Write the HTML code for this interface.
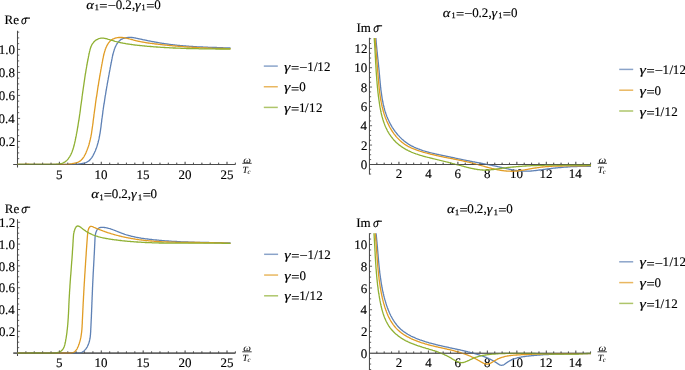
<!DOCTYPE html>
<html><head><meta charset="utf-8"><style>
html,body{margin:0;padding:0;background:#fff;overflow:hidden}
svg{display:block;will-change:transform;text-rendering:geometricPrecision}
svg{font-family:"Liberation Serif", serif;font-size:13px} text{fill:#000;stroke:#000;stroke-width:0.15px}
</style></head><body>
<svg width="685" height="370" viewBox="0 0 685 370">
<rect width="685" height="370" fill="#fff"/>
<path d="M13.31,164.40H235.38M17.50,167.50V30.77" stroke="#4a4a4a" stroke-width="1.05" fill="none"/>
<path d="M25.88,164.40V162.70M34.26,164.40V162.70M42.64,164.40V162.70M51.02,164.40V162.70M59.40,164.40V161.80M67.78,164.40V162.70M76.16,164.40V162.70M84.54,164.40V162.70M92.92,164.40V162.70M101.30,164.40V161.80M109.68,164.40V162.70M118.06,164.40V162.70M126.44,164.40V162.70M134.82,164.40V162.70M143.20,164.40V161.80M151.58,164.40V162.70M159.96,164.40V162.70M168.34,164.40V162.70M176.72,164.40V162.70M185.10,164.40V161.80M193.48,164.40V162.70M201.86,164.40V162.70M210.24,164.40V162.70M218.62,164.40V162.70M227.00,164.40V161.80M235.38,164.40V162.70M17.50,158.65H19.20M17.50,152.90H19.20M17.50,147.15H19.20M17.50,141.40H20.10M17.50,135.65H19.20M17.50,129.90H19.20M17.50,124.15H19.20M17.50,118.40H20.10M17.50,112.65H19.20M17.50,106.90H19.20M17.50,101.15H19.20M17.50,95.40H20.10M17.50,89.65H19.20M17.50,83.90H19.20M17.50,78.15H19.20M17.50,72.40H20.10M17.50,66.65H19.20M17.50,60.90H19.20M17.50,55.15H19.20M17.50,49.40H20.10M17.50,43.65H19.20M17.50,37.90H19.20M17.50,32.15H19.20" stroke="#4a4a4a" stroke-width="0.85" fill="none"/>
<text x="56.03" y="178.50">5</text>
<text x="94.48" y="178.50">1</text>
<text x="100.98" y="178.50">0</text>
<text x="136.38" y="178.50">1</text>
<text x="142.88" y="178.50">5</text>
<text x="178.56" y="178.50">2</text>
<text x="185.06" y="178.50">0</text>
<text x="220.47" y="178.50">2</text>
<text x="226.97" y="178.50">5</text>
<text x="-0.93" y="146.00">0</text>
<text x="5.57" y="146.00">.</text>
<text x="8.82" y="146.00">2</text>
<text x="-1.45" y="123.00">0</text>
<text x="5.05" y="123.00">.</text>
<text x="8.30" y="123.00">4</text>
<text x="-1.26" y="100.00">0</text>
<text x="5.24" y="100.00">.</text>
<text x="8.49" y="100.00">6</text>
<text x="-1.15" y="77.00">0</text>
<text x="5.35" y="77.00">.</text>
<text x="8.60" y="77.00">8</text>
<text x="-1.15" y="54.00">1</text>
<text x="5.35" y="54.00">.</text>
<text x="8.60" y="54.00">0</text>
<path d="M17.44,164.40L18.1,164.4L18.8,164.4L19.5,164.4L20.2,164.4L20.9,164.4L21.6,164.4L22.3,164.4L23.0,164.3L23.7,164.3L24.4,164.3L25.1,164.3L25.8,164.3L26.5,164.3L27.2,164.3L27.9,164.3L28.6,164.3L29.3,164.3L30.0,164.3L30.7,164.3L31.4,164.3L32.1,164.3L32.8,164.3L33.5,164.3L34.2,164.3L34.9,164.3L35.6,164.4L36.3,164.4L37.0,164.4L37.7,164.4L38.4,164.4L39.1,164.4L39.8,164.4L40.5,164.4L41.2,164.4L41.9,164.4L42.6,164.4L43.3,164.4L44.0,164.4L44.7,164.4L45.4,164.4L46.1,164.4L46.8,164.4L47.5,164.4L48.2,164.4L48.9,164.4L49.6,164.4L50.3,164.4L51.0,164.4L51.7,164.4L52.4,164.4L53.1,164.4L53.8,164.4L54.5,164.4L55.2,164.4L55.9,164.4L56.6,164.4L57.3,164.4L58.0,164.4L58.7,164.4L59.4,164.4L60.0,164.4L60.7,164.4L61.4,164.4L62.1,164.4L62.8,164.4L63.5,164.4L64.2,164.4L64.9,164.4L65.6,164.4L66.3,164.4L67.0,164.4L67.7,164.4L68.4,164.4L69.1,164.4L69.8,164.4L70.5,164.4L71.2,164.4L71.9,164.4L72.6,164.4L73.3,164.4L74.0,164.4L74.7,164.3L75.4,164.3L76.1,164.2L76.8,164.2L77.5,164.1L78.2,164.1L78.9,164.0L79.6,163.9L80.3,163.8L81.0,163.7L81.7,163.6L82.3,163.5L83.0,163.4L83.7,163.2L84.4,163.0L85.1,162.8L85.7,162.6L86.4,162.3L87.0,162.0L87.6,161.7L88.2,161.3L88.8,160.9L89.3,160.5L89.8,160.0L90.3,159.5L90.7,158.9L91.2,158.4L91.6,157.8L92.0,157.3L92.4,156.7L92.7,156.1L93.1,155.5L93.4,154.8L93.7,154.2L94.0,153.6L94.3,153.0L94.6,152.3L94.9,151.7L95.2,151.1L95.5,150.4L95.7,149.8L96.0,149.1L96.2,148.5L96.5,147.8L96.7,147.1L96.9,146.5L97.1,145.8L97.3,145.2L97.5,144.5L97.7,143.8L97.9,143.1L98.1,142.5L98.3,141.8L98.4,141.1L98.6,140.4L98.8,139.7L98.9,139.1L99.1,138.4L99.2,137.7L99.3,137.0L99.5,136.3L99.6,135.6L99.7,135.0L99.8,134.3L100.0,133.6L100.1,132.9L100.2,132.2L100.3,131.5L100.4,130.8L100.5,130.1L100.6,129.4L100.7,128.7L100.8,128.1L100.9,127.4L101.0,126.7L101.1,126.0L101.1,125.3L101.2,124.6L101.3,123.9L101.4,123.2L101.5,122.5L101.6,121.8L101.7,121.1L101.7,120.4L101.8,119.7L101.9,119.0L102.0,118.3L102.1,117.7L102.2,117.0L102.3,116.3L102.4,115.6L102.5,114.9L102.6,114.2L102.7,113.5L102.8,112.8L102.8,112.1L102.9,111.4L103.0,110.7L103.1,110.0L103.2,109.4L103.3,108.7L103.4,108.0L103.5,107.3L103.6,106.6L103.7,105.9L103.8,105.2L103.9,104.5L104.1,103.8L104.2,103.1L104.3,102.4L104.4,101.8L104.5,101.1L104.6,100.4L104.7,99.7L104.8,99.0L104.9,98.3L105.0,97.6L105.1,96.9L105.2,96.2L105.3,95.5L105.5,94.9L105.6,94.2L105.7,93.5L105.8,92.8L105.9,92.1L106.0,91.4L106.1,90.7L106.3,90.0L106.4,89.3L106.5,88.6L106.6,88.0L106.7,87.3L106.8,86.6L107.0,85.9L107.1,85.2L107.2,84.5L107.3,83.8L107.4,83.1L107.6,82.5L107.7,81.8L107.8,81.1L107.9,80.4L108.1,79.7L108.2,79.0L108.3,78.3L108.4,77.6L108.6,77.0L108.7,76.3L108.8,75.6L108.9,74.9L109.1,74.2L109.2,73.5L109.3,72.8L109.4,72.1L109.6,71.5L109.7,70.8L109.8,70.1L110.0,69.4L110.1,68.7L110.2,68.0L110.3,67.3L110.5,66.7L110.6,66.0L110.7,65.3L110.9,64.6L111.0,63.9L111.1,63.2L111.3,62.5L111.4,61.9L111.5,61.2L111.7,60.5L111.8,59.8L111.9,59.1L112.1,58.4L112.2,57.7L112.3,57.1L112.5,56.4L112.6,55.7L112.8,55.0L113.0,54.3L113.1,53.6L113.3,53.0L113.5,52.3L113.7,51.6L113.9,51.0L114.1,50.3L114.3,49.6L114.5,49.0L114.8,48.3L115.0,47.7L115.3,47.0L115.6,46.4L115.9,45.8L116.2,45.1L116.6,44.5L116.9,43.9L117.3,43.3L117.7,42.8L118.1,42.2L118.6,41.7L119.0,41.2L119.6,40.7L120.1,40.2L120.6,39.8L121.2,39.4L121.8,39.1L122.5,38.8L123.1,38.5L123.8,38.3L124.4,38.1L125.1,37.9L125.8,37.8L126.5,37.6L127.2,37.6L127.9,37.5L128.6,37.4L129.3,37.4L130.0,37.4L130.7,37.4L131.4,37.5L132.1,37.5L132.8,37.6L133.5,37.7L134.1,37.8L134.8,37.9L135.5,38.0L136.2,38.2L136.9,38.3L137.6,38.5L138.3,38.6L138.9,38.8L139.6,38.9L140.3,39.1L141.0,39.2L141.7,39.4L142.3,39.5L143.0,39.7L143.7,39.8L144.4,39.9L145.1,40.1L145.8,40.2L146.4,40.4L147.1,40.5L147.8,40.7L148.5,40.8L149.2,40.9L149.9,41.1L150.6,41.2L151.2,41.3L151.9,41.5L152.6,41.6L153.3,41.7L154.0,41.9L154.7,42.0L155.4,42.1L156.0,42.2L156.7,42.4L157.4,42.5L158.1,42.6L158.8,42.7L159.5,42.8L160.2,43.0L160.9,43.1L161.6,43.2L162.2,43.3L162.9,43.4L163.6,43.5L164.3,43.6L165.0,43.7L165.7,43.8L166.4,43.9L167.1,44.0L167.8,44.1L168.5,44.2L169.2,44.3L169.9,44.4L170.5,44.5L171.2,44.6L171.9,44.7L172.6,44.7L173.3,44.8L174.0,44.9L174.7,45.0L175.4,45.1L176.1,45.1L176.8,45.2L177.5,45.3L178.2,45.4L178.9,45.4L179.6,45.5L180.3,45.6L181.0,45.6L181.7,45.7L182.4,45.7L183.0,45.8L183.7,45.9L184.4,45.9L185.1,46.0L185.8,46.0L186.5,46.1L187.2,46.1L187.9,46.2L188.6,46.2L189.3,46.3L190.0,46.3L190.7,46.4L191.4,46.4L192.1,46.5L192.8,46.5L193.5,46.6L194.2,46.6L194.9,46.6L195.6,46.7L196.3,46.7L197.0,46.8L197.7,46.8L198.4,46.8L199.1,46.9L199.8,46.9L200.5,46.9L201.2,47.0L201.9,47.0L202.6,47.0L203.3,47.1L204.0,47.1L204.7,47.1L205.4,47.1L206.1,47.2L206.8,47.2L207.5,47.2L208.2,47.3L208.8,47.3L209.5,47.3L210.2,47.3L210.9,47.4L211.6,47.4L212.3,47.4L213.0,47.4L213.7,47.5L214.4,47.5L215.1,47.5L215.8,47.5L216.5,47.5L217.2,47.6L217.9,47.6L218.6,47.6L219.3,47.6L220.0,47.7L220.7,47.7L221.4,47.7L222.1,47.7L222.8,47.7L223.5,47.8L224.2,47.8L224.9,47.8L225.6,47.8L226.3,47.9L227.0,47.9L227.7,47.9L228.4,47.9L229.1,47.9L229.8,48.0L230.5,48.0" stroke="#5e81b5" stroke-width="1.3" fill="none" stroke-linejoin="round"/>
<path d="M17.50,164.40L18.2,164.4L18.9,164.4L19.6,164.4L20.3,164.4L21.0,164.4L21.7,164.3L22.4,164.3L23.1,164.3L23.8,164.3L24.5,164.3L25.2,164.2L25.9,164.2L26.6,164.2L27.3,164.2L28.0,164.2L28.7,164.2L29.4,164.3L30.1,164.3L30.8,164.3L31.5,164.3L32.2,164.3L32.9,164.3L33.6,164.3L34.3,164.4L35.0,164.4L35.7,164.4L36.4,164.4L37.1,164.4L37.8,164.4L38.5,164.4L39.2,164.4L39.9,164.4L40.6,164.4L41.3,164.4L42.0,164.4L42.7,164.4L43.4,164.4L44.1,164.4L44.8,164.4L45.5,164.4L46.2,164.4L46.9,164.4L47.6,164.4L48.3,164.4L49.0,164.4L49.7,164.4L50.4,164.4L51.1,164.4L51.8,164.4L52.5,164.4L53.2,164.4L53.9,164.4L54.6,164.4L55.3,164.4L56.0,164.4L56.7,164.4L57.4,164.4L58.1,164.4L58.8,164.4L59.5,164.4L60.2,164.4L60.8,164.4L61.5,164.4L62.2,164.4L62.9,164.4L63.6,164.4L64.3,164.4L65.0,164.4L65.7,164.4L66.4,164.4L67.1,164.4L67.8,164.3L68.5,164.2L69.2,164.1L69.9,164.0L70.6,163.9L71.3,163.8L72.0,163.7L72.7,163.5L73.3,163.4L74.0,163.3L74.7,163.1L75.4,163.0L76.1,162.8L76.7,162.6L77.4,162.4L78.1,162.1L78.7,161.8L79.3,161.5L79.9,161.1L80.5,160.7L81.0,160.3L81.5,159.8L82.0,159.3L82.5,158.8L82.9,158.2L83.3,157.6L83.7,157.1L84.1,156.5L84.4,155.8L84.7,155.2L85.1,154.6L85.4,154.0L85.7,153.4L86.0,152.7L86.2,152.1L86.5,151.4L86.8,150.8L87.0,150.1L87.3,149.5L87.5,148.8L87.8,148.2L88.0,147.5L88.2,146.9L88.5,146.2L88.7,145.5L88.9,144.9L89.1,144.2L89.3,143.5L89.4,142.8L89.6,142.2L89.8,141.5L90.0,140.8L90.1,140.1L90.3,139.4L90.4,138.8L90.6,138.1L90.7,137.4L90.9,136.7L91.0,136.0L91.1,135.3L91.3,134.6L91.4,134.0L91.5,133.3L91.6,132.6L91.7,131.9L91.8,131.2L91.9,130.5L92.0,129.8L92.1,129.1L92.2,128.4L92.3,127.7L92.4,127.0L92.5,126.3L92.6,125.7L92.7,125.0L92.8,124.3L92.9,123.6L93.0,122.9L93.1,122.2L93.1,121.5L93.2,120.8L93.3,120.1L93.4,119.4L93.5,118.7L93.6,118.0L93.7,117.3L93.8,116.6L93.9,115.9L93.9,115.2L94.0,114.5L94.1,113.9L94.2,113.2L94.3,112.5L94.4,111.8L94.5,111.1L94.6,110.4L94.7,109.7L94.8,109.0L94.9,108.3L95.0,107.6L95.1,106.9L95.2,106.2L95.3,105.5L95.4,104.8L95.4,104.2L95.5,103.5L95.6,102.8L95.7,102.1L95.8,101.4L95.9,100.7L96.0,100.0L96.1,99.3L96.2,98.6L96.3,97.9L96.4,97.2L96.6,96.5L96.7,95.8L96.8,95.2L96.9,94.5L97.0,93.8L97.1,93.1L97.2,92.4L97.3,91.7L97.4,91.0L97.5,90.3L97.6,89.6L97.7,88.9L97.8,88.2L97.9,87.5L98.0,86.9L98.1,86.2L98.3,85.5L98.4,84.8L98.5,84.1L98.6,83.4L98.7,82.7L98.8,82.0L98.9,81.3L99.0,80.6L99.2,80.0L99.3,79.3L99.4,78.6L99.5,77.9L99.6,77.2L99.7,76.5L99.9,75.8L100.0,75.1L100.1,74.4L100.2,73.7L100.3,73.1L100.5,72.4L100.6,71.7L100.7,71.0L100.8,70.3L100.9,69.6L101.1,68.9L101.2,68.2L101.3,67.5L101.4,66.9L101.6,66.2L101.7,65.5L101.8,64.8L101.9,64.1L102.1,63.4L102.2,62.7L102.3,62.0L102.5,61.4L102.6,60.7L102.7,60.0L102.8,59.3L103.0,58.6L103.1,57.9L103.3,57.2L103.4,56.6L103.5,55.9L103.7,55.2L103.9,54.5L104.0,53.8L104.2,53.1L104.4,52.5L104.6,51.8L104.8,51.1L105.0,50.5L105.2,49.8L105.4,49.1L105.7,48.5L105.9,47.8L106.2,47.2L106.5,46.6L106.8,45.9L107.1,45.3L107.5,44.7L107.8,44.1L108.2,43.5L108.6,42.9L109.0,42.4L109.5,41.8L109.9,41.3L110.4,40.8L111.0,40.4L111.5,39.9L112.1,39.5L112.7,39.2L113.3,38.9L114.0,38.6L114.6,38.3L115.3,38.1L116.0,37.9L116.6,37.8L117.3,37.7L118.0,37.6L118.7,37.5L119.4,37.5L120.1,37.5L120.8,37.5L121.5,37.5L122.2,37.5L122.9,37.6L123.6,37.7L124.3,37.8L125.0,37.9L125.7,38.0L126.4,38.2L127.0,38.3L127.7,38.5L128.4,38.6L129.1,38.8L129.8,39.0L130.4,39.2L131.1,39.4L131.8,39.6L132.5,39.7L133.1,39.9L133.8,40.1L134.5,40.3L135.2,40.5L135.8,40.6L136.5,40.8L137.2,41.0L137.9,41.1L138.6,41.3L139.3,41.4L139.9,41.5L140.6,41.7L141.3,41.8L142.0,41.9L142.7,42.1L143.4,42.2L144.1,42.3L144.8,42.4L145.4,42.5L146.1,42.6L146.8,42.8L147.5,42.9L148.2,43.0L148.9,43.1L149.6,43.2L150.3,43.3L151.0,43.3L151.7,43.4L152.4,43.5L153.1,43.6L153.8,43.7L154.4,43.8L155.1,43.9L155.8,44.0L156.5,44.0L157.2,44.1L157.9,44.2L158.6,44.3L159.3,44.4L160.0,44.4L160.7,44.5L161.4,44.6L162.1,44.7L162.8,44.8L163.5,44.8L164.2,44.9L164.9,45.0L165.6,45.1L166.3,45.1L167.0,45.2L167.7,45.3L168.4,45.3L169.0,45.4L169.7,45.5L170.4,45.6L171.1,45.6L171.8,45.7L172.5,45.8L173.2,45.8L173.9,45.9L174.6,45.9L175.3,46.0L176.0,46.1L176.7,46.1L177.4,46.2L178.1,46.3L178.8,46.3L179.5,46.4L180.2,46.4L180.9,46.5L181.6,46.5L182.3,46.6L183.0,46.6L183.7,46.7L184.4,46.8L185.1,46.8L185.8,46.9L186.5,46.9L187.2,47.0L187.9,47.0L188.6,47.1L189.3,47.1L190.0,47.1L190.7,47.2L191.4,47.2L192.1,47.3L192.8,47.3L193.5,47.4L194.1,47.4L194.8,47.5L195.5,47.5L196.2,47.5L196.9,47.6L197.6,47.6L198.3,47.7L199.0,47.7L199.7,47.7L200.4,47.8L201.1,47.8L201.8,47.8L202.5,47.9L203.2,47.9L203.9,47.9L204.6,48.0L205.3,48.0L206.0,48.0L206.7,48.0L207.4,48.1L208.1,48.1L208.8,48.1L209.5,48.2L210.2,48.2L210.9,48.2L211.6,48.2L212.3,48.3L213.0,48.3L213.7,48.3L214.4,48.3L215.1,48.3L215.8,48.4L216.5,48.4L217.2,48.4L217.9,48.4L218.6,48.4L219.3,48.4L220.0,48.5L220.7,48.5L221.4,48.5L222.1,48.5L222.8,48.5L223.5,48.5L224.2,48.5L224.9,48.5L225.6,48.6L226.3,48.6L227.0,48.6L227.7,48.6L228.4,48.6L229.1,48.6L229.8,48.6L230.5,48.6" stroke="#e19c24" stroke-width="1.3" fill="none" stroke-linejoin="round"/>
<path d="M17.50,164.38L18.2,164.4L18.9,164.4L19.6,164.4L20.3,164.4L21.0,164.4L21.7,164.4L22.4,164.4L23.1,164.4L23.8,164.4L24.5,164.4L25.2,164.4L25.9,164.4L26.6,164.4L27.3,164.4L28.0,164.4L28.7,164.4L29.4,164.4L30.1,164.4L30.8,164.4L31.5,164.4L32.2,164.4L32.9,164.4L33.6,164.4L34.3,164.4L35.0,164.4L35.7,164.4L36.4,164.4L37.1,164.4L37.8,164.4L38.5,164.4L39.2,164.4L39.8,164.4L40.5,164.4L41.2,164.4L41.9,164.4L42.6,164.4L43.3,164.4L44.0,164.4L44.7,164.4L45.4,164.4L46.1,164.4L46.8,164.4L47.5,164.4L48.2,164.4L48.9,164.4L49.6,164.4L50.3,164.4L51.0,164.4L51.7,164.4L52.4,164.4L53.1,164.4L53.8,164.4L54.5,164.4L55.2,164.3L55.9,164.3L56.6,164.2L57.3,164.2L58.0,164.1L58.7,164.0L59.4,163.9L60.1,163.8L60.8,163.6L61.4,163.5L62.1,163.3L62.8,163.0L63.4,162.8L64.0,162.4L64.6,162.1L65.2,161.7L65.8,161.3L66.3,160.8L66.8,160.4L67.3,159.9L67.8,159.3L68.2,158.8L68.6,158.2L69.0,157.7L69.4,157.1L69.8,156.5L70.1,155.9L70.5,155.3L70.8,154.7L71.1,154.0L71.4,153.4L71.7,152.8L71.9,152.1L72.2,151.5L72.4,150.8L72.7,150.1L72.9,149.5L73.1,148.8L73.3,148.1L73.5,147.5L73.7,146.8L73.9,146.1L74.1,145.5L74.2,144.8L74.4,144.1L74.6,143.4L74.7,142.7L74.9,142.1L75.0,141.4L75.2,140.7L75.3,140.0L75.5,139.3L75.6,138.6L75.7,138.0L75.9,137.3L76.0,136.6L76.2,135.9L76.3,135.2L76.4,134.5L76.5,133.8L76.7,133.2L76.8,132.5L76.9,131.8L77.1,131.1L77.2,130.4L77.3,129.7L77.4,129.0L77.5,128.3L77.6,127.7L77.8,127.0L77.9,126.3L78.0,125.6L78.1,124.9L78.2,124.2L78.3,123.5L78.4,122.8L78.5,122.1L78.6,121.5L78.8,120.8L78.9,120.1L79.0,119.4L79.1,118.7L79.2,118.0L79.3,117.3L79.4,116.6L79.5,115.9L79.6,115.2L79.7,114.5L79.8,113.8L79.9,113.2L80.0,112.5L80.1,111.8L80.2,111.1L80.3,110.4L80.4,109.7L80.5,109.0L80.5,108.3L80.6,107.6L80.7,106.9L80.8,106.2L80.9,105.5L81.0,104.9L81.1,104.2L81.2,103.5L81.3,102.8L81.4,102.1L81.5,101.4L81.6,100.7L81.7,100.0L81.8,99.3L81.9,98.6L82.0,97.9L82.0,97.2L82.1,96.5L82.2,95.9L82.3,95.2L82.4,94.5L82.5,93.8L82.6,93.1L82.7,92.4L82.8,91.7L82.9,91.0L83.0,90.3L83.1,89.6L83.2,88.9L83.3,88.2L83.4,87.5L83.5,86.9L83.6,86.2L83.7,85.5L83.8,84.8L83.9,84.1L84.0,83.4L84.1,82.7L84.2,82.0L84.3,81.3L84.4,80.6L84.5,79.9L84.6,79.3L84.7,78.6L84.8,77.9L84.9,77.2L85.0,76.5L85.1,75.8L85.2,75.1L85.3,74.4L85.4,73.7L85.6,73.0L85.7,72.4L85.8,71.7L85.9,71.0L86.0,70.3L86.1,69.6L86.2,68.9L86.4,68.2L86.5,67.5L86.6,66.8L86.7,66.2L86.8,65.5L87.0,64.8L87.1,64.1L87.2,63.4L87.3,62.7L87.5,62.0L87.6,61.3L87.7,60.7L87.9,60.0L88.0,59.3L88.1,58.6L88.3,57.9L88.4,57.2L88.5,56.5L88.7,55.9L88.8,55.2L88.9,54.5L89.1,53.8L89.2,53.1L89.4,52.4L89.5,51.8L89.7,51.1L89.9,50.4L90.0,49.7L90.2,49.1L90.4,48.4L90.6,47.7L90.9,47.1L91.1,46.4L91.4,45.8L91.7,45.1L92.0,44.5L92.4,43.9L92.8,43.3L93.2,42.8L93.6,42.2L94.1,41.7L94.6,41.2L95.1,40.8L95.7,40.3L96.3,39.9L96.9,39.6L97.5,39.3L98.1,39.0L98.8,38.7L99.4,38.5L100.1,38.3L100.8,38.2L101.5,38.1L102.2,38.1L102.9,38.1L103.6,38.2L104.3,38.3L105.0,38.4L105.6,38.6L106.3,38.7L107.0,38.9L107.7,39.1L108.3,39.3L109.0,39.5L109.7,39.7L110.3,39.9L111.0,40.1L111.7,40.3L112.3,40.5L113.0,40.7L113.7,40.9L114.4,41.1L115.0,41.3L115.7,41.5L116.4,41.7L117.1,41.8L117.7,42.0L118.4,42.2L119.1,42.3L119.8,42.5L120.5,42.6L121.1,42.8L121.8,42.9L122.5,43.0L123.2,43.2L123.9,43.3L124.6,43.4L125.3,43.5L125.9,43.7L126.6,43.8L127.3,43.9L128.0,44.0L128.7,44.1L129.4,44.2L130.1,44.3L130.8,44.4L131.5,44.5L132.2,44.6L132.9,44.7L133.5,44.8L134.2,44.9L134.9,45.0L135.6,45.1L136.3,45.1L137.0,45.2L137.7,45.3L138.4,45.4L139.1,45.4L139.8,45.5L140.5,45.6L141.2,45.7L141.9,45.7L142.6,45.8L143.3,45.9L144.0,45.9L144.7,46.0L145.4,46.1L146.0,46.1L146.7,46.2L147.4,46.3L148.1,46.3L148.8,46.4L149.5,46.4L150.2,46.5L150.9,46.5L151.6,46.6L152.3,46.7L153.0,46.7L153.7,46.8L154.4,46.8L155.1,46.9L155.8,46.9L156.5,47.0L157.2,47.0L157.9,47.1L158.6,47.1L159.3,47.2L160.0,47.2L160.7,47.3L161.4,47.3L162.1,47.3L162.8,47.4L163.5,47.4L164.2,47.5L164.9,47.5L165.6,47.6L166.3,47.6L166.9,47.6L167.6,47.7L168.3,47.7L169.0,47.7L169.7,47.8L170.4,47.8L171.1,47.9L171.8,47.9L172.5,47.9L173.2,48.0L173.9,48.0L174.6,48.0L175.3,48.0L176.0,48.1L176.7,48.1L177.4,48.1L178.1,48.2L178.8,48.2L179.5,48.2L180.2,48.2L180.9,48.3L181.6,48.3L182.3,48.3L183.0,48.3L183.7,48.4L184.4,48.4L185.1,48.4L185.8,48.4L186.5,48.5L187.2,48.5L187.9,48.5L188.6,48.5L189.3,48.5L190.0,48.6L190.7,48.6L191.4,48.6L192.1,48.6L192.8,48.6L193.5,48.6L194.2,48.7L194.9,48.7L195.6,48.7L196.3,48.7L197.0,48.7L197.7,48.7L198.4,48.7L199.1,48.8L199.8,48.8L200.5,48.8L201.2,48.8L201.9,48.8L202.6,48.8L203.3,48.8L204.0,48.8L204.7,48.8L205.3,48.9L206.0,48.9L206.7,48.9L207.4,48.9L208.1,48.9L208.8,48.9L209.5,48.9L210.2,48.9L210.9,48.9L211.6,48.9L212.3,48.9L213.0,48.9L213.7,48.9L214.4,48.9L215.1,48.9L215.8,49.0L216.5,49.0L217.2,49.0L217.9,49.0L218.6,49.0L219.3,49.0L220.0,49.0L220.7,49.0L221.4,49.0L222.1,49.0L222.8,49.0L223.5,49.0L224.2,49.0L224.9,49.0L225.6,49.0L226.3,49.0L227.0,49.0L227.7,49.0L228.4,49.0L229.1,49.0L229.8,49.0L230.5,49.0" stroke="#8fb032" stroke-width="1.3" fill="none" stroke-linejoin="round"/>
<g opacity="0.55"><path d="M13.31,164.40H235.38" stroke="#4a4a4a" stroke-width="1.05" fill="none"/><path d="M25.88,164.40V162.70M34.26,164.40V162.70M42.64,164.40V162.70M51.02,164.40V162.70M59.40,164.40V161.80M67.78,164.40V162.70M76.16,164.40V162.70M84.54,164.40V162.70M92.92,164.40V162.70M101.30,164.40V161.80M109.68,164.40V162.70M118.06,164.40V162.70M126.44,164.40V162.70M134.82,164.40V162.70M143.20,164.40V161.80M151.58,164.40V162.70M159.96,164.40V162.70M168.34,164.40V162.70M176.72,164.40V162.70M185.10,164.40V161.80M193.48,164.40V162.70M201.86,164.40V162.70M210.24,164.40V162.70M218.62,164.40V162.70M227.00,164.40V161.80M235.38,164.40V162.70" stroke="#4a4a4a" stroke-width="0.85" fill="none"/></g>
<line x1="263.80" y1="66.10" x2="277.80" y2="66.10" stroke="#5e81b5" stroke-width="1.5" opacity="0.72"/>
<text transform="translate(284.07,70.70) scale(1.25,1)" font-style="italic">γ</text>
<text transform="translate(291.04,71.90) scale(1.12,1)">=</text>
<text transform="translate(299.29,71.90) scale(1.12,1)">−</text>
<text x="307.17" y="70.70">1</text>
<text x="313.99" y="70.70">/</text>
<text x="317.37" y="70.70">1</text>
<text x="324.02" y="70.70">2</text>
<line x1="263.80" y1="86.75" x2="277.80" y2="86.75" stroke="#e19c24" stroke-width="1.5" opacity="0.72"/>
<text transform="translate(284.07,91.35) scale(1.25,1)" font-style="italic">γ</text>
<text transform="translate(291.04,92.55) scale(1.12,1)">=</text>
<text x="299.15" y="91.35">0</text>
<line x1="263.80" y1="107.40" x2="277.80" y2="107.40" stroke="#8fb032" stroke-width="1.5" opacity="0.72"/>
<text transform="translate(284.07,112.00) scale(1.25,1)" font-style="italic">γ</text>
<text transform="translate(290.99,113.20) scale(1.12,1)">=</text>
<text x="298.92" y="112.00">1</text>
<text x="305.09" y="112.00">/</text>
<text x="309.12" y="112.00">1</text>
<text x="315.97" y="112.00">2</text>
<text transform="translate(86.24,8.50) scale(1.12,1)" font-style="italic">α</text>
<text x="94.84" y="10.30" font-size="8.2" style="stroke-width:0.25px">1</text>
<text transform="translate(99.34,9.70) scale(1.12,1)">=</text>
<text transform="translate(107.69,9.70) scale(1.12,1)">−</text>
<text x="115.75" y="8.50">0</text>
<text x="122.03" y="8.50">.</text>
<text x="125.27" y="8.50">2</text>
<text x="131.89" y="8.50">,</text>
<text transform="translate(134.90,8.50) scale(1.1,1)" font-style="italic">γ</text>
<text x="141.59" y="10.30" font-size="8.2" style="stroke-width:0.25px">1</text>
<text transform="translate(146.24,9.70) scale(1.12,1)">=</text>
<text x="154.35" y="8.50">0</text>
<text x="4.59" y="24.20">R</text>
<text x="13.29" y="24.20">e</text>
<text transform="translate(21.06,24.20) scale(0.9,1)" font-style="italic">σ</text>
<path d="M24.30,18.10H30.00" stroke="#000" stroke-width="1.1" fill="none"/>
<text transform="translate(243.30,162.90) scale(1.15,1)" font-style="italic" font-size="9.5" style="stroke-width:0.02px">ω</text>
<line x1="242.30" y1="163.30" x2="251.70" y2="163.30" stroke="#000" stroke-width="0.75"/>
<text x="242.47" y="172.90" font-style="italic" font-size="9.5" style="stroke-width:0.08px">T</text>
<text x="247.52" y="173.90" font-style="italic" font-size="6.8" style="stroke-width:0.02px">c</text>
<path d="M369.45,164.40H590.55M369.45,174.45V37.86" stroke="#4a4a4a" stroke-width="1.05" fill="none"/>
<path d="M376.82,164.40V162.70M384.19,164.40V162.70M391.56,164.40V162.70M398.93,164.40V161.80M406.30,164.40V162.70M413.67,164.40V162.70M421.04,164.40V162.70M428.41,164.40V161.80M435.78,164.40V162.70M443.15,164.40V162.70M450.52,164.40V162.70M457.89,164.40V161.80M465.26,164.40V162.70M472.63,164.40V162.70M480.00,164.40V162.70M487.37,164.40V161.80M494.74,164.40V162.70M502.11,164.40V162.70M509.48,164.40V162.70M516.85,164.40V161.80M524.22,164.40V162.70M531.59,164.40V162.70M538.96,164.40V162.70M546.33,164.40V161.80M553.70,164.40V162.70M561.07,164.40V162.70M568.44,164.40V162.70M575.81,164.40V161.80M583.18,164.40V162.70M590.55,164.40V162.70M369.45,174.07H371.15M369.45,169.23H371.15M369.45,159.57H371.15M369.45,154.73H371.15M369.45,149.90H371.15M369.45,145.07H372.05M369.45,140.23H371.15M369.45,135.40H371.15M369.45,130.57H371.15M369.45,125.73H372.05M369.45,120.90H371.15M369.45,116.06H371.15M369.45,111.23H371.15M369.45,106.40H372.05M369.45,101.56H371.15M369.45,96.73H371.15M369.45,91.90H371.15M369.45,87.06H372.05M369.45,82.23H371.15M369.45,77.40H371.15M369.45,72.56H371.15M369.45,67.73H372.05M369.45,62.90H371.15M369.45,58.06H371.15M369.45,53.23H371.15M369.45,48.40H372.05M369.45,43.56H371.15M369.45,38.73H371.15" stroke="#4a4a4a" stroke-width="0.85" fill="none"/>
<text x="395.75" y="178.40">2</text>
<text x="425.13" y="178.40">4</text>
<text x="454.55" y="178.40">6</text>
<text x="484.12" y="178.40">8</text>
<text x="510.03" y="178.40">1</text>
<text x="516.53" y="178.40">0</text>
<text x="539.62" y="178.40">1</text>
<text x="546.12" y="178.40">2</text>
<text x="568.84" y="178.40">1</text>
<text x="575.34" y="178.40">4</text>
<text x="360.85" y="169.00">0</text>
<text x="361.07" y="149.67">2</text>
<text x="360.55" y="130.33">4</text>
<text x="360.74" y="111.00">6</text>
<text x="360.85" y="91.66">8</text>
<text x="354.35" y="72.33">1</text>
<text x="360.85" y="72.33">0</text>
<text x="354.57" y="53.00">1</text>
<text x="361.07" y="53.00">2</text>
<clipPath id="ctr"><rect x="369" y="38.0" width="225" height="140"/></clipPath>
<path d="M375.45,29.95L375.5,30.7L375.5,31.4L375.5,32.0L375.6,32.7L375.6,33.4L375.6,34.1L375.7,34.8L375.7,35.5L375.8,36.2L375.8,36.9L375.9,37.6L375.9,38.3L376.0,39.0L376.0,39.7L376.1,40.4L376.1,41.1L376.2,41.8L376.2,42.5L376.3,43.2L376.4,43.9L376.4,44.6L376.5,45.3L376.6,46.0L376.6,46.7L376.7,47.4L376.8,48.1L376.8,48.8L376.9,49.5L377.0,50.2L377.0,50.9L377.1,51.5L377.2,52.2L377.3,52.9L377.3,53.6L377.4,54.3L377.5,55.0L377.5,55.7L377.6,56.4L377.7,57.1L377.8,57.8L377.8,58.5L377.9,59.2L378.0,59.9L378.1,60.6L378.1,61.3L378.2,62.0L378.3,62.7L378.4,63.4L378.4,64.1L378.5,64.7L378.6,65.4L378.6,66.1L378.7,66.8L378.8,67.5L378.9,68.2L378.9,68.9L379.0,69.6L379.1,70.3L379.1,71.0L379.2,71.7L379.2,72.4L379.3,73.1L379.4,73.8L379.4,74.5L379.5,75.2L379.6,75.9L379.6,76.6L379.7,77.3L379.7,78.0L379.8,78.7L379.9,79.4L379.9,80.1L380.0,80.7L380.1,81.4L380.1,82.1L380.2,82.8L380.3,83.5L380.3,84.2L380.4,84.9L380.5,85.6L380.5,86.3L380.6,87.0L380.7,87.7L380.8,88.4L380.8,89.1L380.9,89.8L381.0,90.5L381.1,91.2L381.2,91.9L381.3,92.6L381.4,93.2L381.5,93.9L381.6,94.6L381.7,95.3L381.8,96.0L381.9,96.7L382.0,97.4L382.1,98.1L382.2,98.8L382.3,99.5L382.5,100.1L382.6,100.8L382.7,101.5L382.9,102.2L383.0,102.9L383.1,103.6L383.3,104.3L383.4,104.9L383.6,105.6L383.8,106.3L383.9,107.0L384.1,107.7L384.3,108.3L384.5,109.0L384.6,109.7L384.8,110.4L385.0,111.0L385.2,111.7L385.5,112.4L385.7,113.0L385.9,113.7L386.1,114.3L386.4,115.0L386.6,115.7L386.8,116.3L387.1,117.0L387.4,117.6L387.6,118.3L387.9,118.9L388.2,119.5L388.5,120.2L388.8,120.8L389.1,121.4L389.4,122.1L389.7,122.7L390.0,123.3L390.3,123.9L390.7,124.5L391.0,125.2L391.4,125.8L391.7,126.4L392.1,127.0L392.4,127.6L392.8,128.1L393.2,128.7L393.6,129.3L394.0,129.9L394.4,130.5L394.8,131.0L395.2,131.6L395.6,132.1L396.1,132.7L396.5,133.2L396.9,133.8L397.4,134.3L397.8,134.8L398.3,135.4L398.8,135.9L399.3,136.4L399.7,136.9L400.2,137.4L400.7,137.9L401.2,138.4L401.7,138.9L402.2,139.3L402.8,139.8L403.3,140.2L403.8,140.7L404.4,141.1L404.9,141.6L405.5,142.0L406.0,142.4L406.6,142.8L407.2,143.2L407.8,143.6L408.3,144.0L408.9,144.4L409.5,144.7L410.1,145.1L410.7,145.4L411.3,145.8L412.0,146.1L412.6,146.4L413.2,146.7L413.8,147.0L414.5,147.3L415.1,147.6L415.7,147.9L416.4,148.2L417.0,148.4L417.7,148.7L418.3,149.0L419.0,149.2L419.6,149.4L420.3,149.7L421.0,149.9L421.6,150.1L422.3,150.4L422.9,150.6L423.6,150.8L424.3,151.0L424.9,151.2L425.6,151.4L426.3,151.6L427.0,151.8L427.6,152.0L428.3,152.1L429.0,152.3L429.7,152.5L430.3,152.7L431.0,152.8L431.7,153.0L432.4,153.2L433.1,153.3L433.7,153.5L434.4,153.6L435.1,153.8L435.8,154.0L436.5,154.1L437.1,154.3L437.8,154.4L438.5,154.5L439.2,154.7L439.9,154.8L440.6,155.0L441.2,155.1L441.9,155.3L442.6,155.4L443.3,155.6L444.0,155.7L444.7,155.8L445.4,156.0L446.0,156.1L446.7,156.3L447.4,156.4L448.1,156.6L448.8,156.7L449.5,156.8L450.1,157.0L450.8,157.1L451.5,157.3L452.2,157.4L452.9,157.6L453.5,157.7L454.2,157.9L454.9,158.0L455.6,158.2L456.3,158.3L457.0,158.5L457.6,158.6L458.3,158.8L459.0,158.9L459.7,159.1L460.4,159.2L461.1,159.3L461.7,159.5L462.4,159.6L463.1,159.8L463.8,159.9L464.5,160.1L465.2,160.2L465.9,160.3L466.5,160.5L467.2,160.6L467.9,160.7L468.6,160.9L469.3,161.0L470.0,161.1L470.7,161.3L471.3,161.4L472.0,161.5L472.7,161.7L473.4,161.8L474.1,161.9L474.8,162.0L475.5,162.2L476.1,162.3L476.8,162.4L477.5,162.6L478.2,162.7L478.9,162.8L479.6,163.0L480.3,163.1L481.0,163.2L481.6,163.4L482.3,163.5L483.0,163.6L483.7,163.8L484.4,163.9L485.1,164.0L485.8,164.2L486.4,164.3L487.1,164.4L487.8,164.6L488.5,164.7L489.2,164.8L489.9,165.0L490.6,165.1L491.2,165.2L491.9,165.4L492.6,165.5L493.3,165.7L494.0,165.8L494.7,165.9L495.3,166.1L496.0,166.2L496.7,166.4L497.4,166.5L498.1,166.7L498.8,166.8L499.4,167.0L500.1,167.1L500.8,167.3L501.5,167.4L502.2,167.6L502.8,167.7L503.5,167.9L504.2,168.1L504.9,168.2L505.6,168.4L506.3,168.5L506.9,168.7L507.6,168.8L508.3,169.0L509.0,169.1L509.7,169.3L510.3,169.4L511.0,169.6L511.7,169.7L512.4,169.8L513.1,170.0L513.8,170.1L514.5,170.2L515.2,170.3L515.8,170.4L516.5,170.5L517.2,170.6L517.9,170.7L518.6,170.8L519.3,170.9L520.0,171.0L520.7,171.0L521.4,171.1L522.1,171.1L522.8,171.2L523.5,171.2L524.2,171.2L524.9,171.2L525.6,171.2L526.3,171.2L527.0,171.2L527.7,171.2L528.4,171.2L529.1,171.1L529.8,171.1L530.5,171.1L531.2,171.0L531.9,170.9L532.6,170.9L533.2,170.8L533.9,170.7L534.6,170.7L535.3,170.6L536.0,170.5L536.7,170.4L537.4,170.3L538.1,170.2L538.8,170.1L539.5,170.0L540.2,169.9L540.9,169.9L541.6,169.8L542.3,169.7L543.0,169.6L543.6,169.5L544.3,169.4L545.0,169.3L545.7,169.2L546.4,169.1L547.1,169.0L547.8,168.9L548.5,168.8L549.2,168.7L549.9,168.6L550.6,168.6L551.3,168.5L552.0,168.4L552.7,168.3L553.3,168.2L554.0,168.1L554.7,168.1L555.4,168.0L556.1,167.9L556.8,167.9L557.5,167.8L558.2,167.7L558.9,167.6L559.6,167.6L560.3,167.5L561.0,167.5L561.7,167.4L562.4,167.3L563.1,167.3L563.8,167.2L564.5,167.2L565.2,167.1L565.9,167.1L566.6,167.0L567.3,167.0L568.0,166.9L568.7,166.9L569.4,166.8L570.0,166.8L570.7,166.7L571.4,166.7L572.1,166.7L572.8,166.6L573.5,166.6L574.2,166.6L574.9,166.5L575.6,166.5L576.3,166.5L577.0,166.5L577.7,166.4L578.4,166.4L579.1,166.4L579.8,166.4L580.5,166.4L581.2,166.3L581.9,166.3L582.6,166.3L583.3,166.3L584.0,166.3L584.7,166.3L585.4,166.3L586.1,166.3L586.8,166.3L587.5,166.3L588.2,166.3L588.9,166.3L589.6,166.3L590.3,166.3L591.0,166.3" stroke="#5e81b5" stroke-width="1.3" fill="none" stroke-linejoin="round" clip-path="url(#ctr)"/>
<path d="M374.66,29.97L374.7,30.7L374.7,31.4L374.8,32.1L374.8,32.8L374.8,33.5L374.9,34.2L374.9,34.9L374.9,35.6L375.0,36.3L375.0,37.0L375.1,37.7L375.1,38.3L375.1,39.0L375.2,39.7L375.2,40.4L375.3,41.1L375.3,41.8L375.4,42.5L375.4,43.2L375.5,43.9L375.5,44.6L375.6,45.3L375.6,46.0L375.7,46.7L375.7,47.4L375.8,48.1L375.9,48.8L375.9,49.5L376.0,50.2L376.0,50.9L376.1,51.6L376.1,52.3L376.2,53.0L376.3,53.7L376.3,54.4L376.4,55.1L376.4,55.8L376.5,56.5L376.6,57.2L376.6,57.9L376.7,58.6L376.7,59.3L376.8,60.0L376.9,60.7L376.9,61.3L377.0,62.0L377.0,62.7L377.1,63.4L377.2,64.1L377.2,64.8L377.3,65.5L377.3,66.2L377.4,66.9L377.4,67.6L377.5,68.3L377.6,69.0L377.6,69.7L377.7,70.4L377.7,71.1L377.8,71.8L377.8,72.5L377.9,73.2L377.9,73.9L378.0,74.6L378.1,75.3L378.1,76.0L378.2,76.7L378.2,77.4L378.3,78.1L378.3,78.8L378.4,79.5L378.4,80.2L378.5,80.9L378.6,81.6L378.6,82.3L378.7,82.9L378.7,83.6L378.8,84.3L378.9,85.0L378.9,85.7L379.0,86.4L379.1,87.1L379.1,87.8L379.2,88.5L379.3,89.2L379.4,89.9L379.5,90.6L379.5,91.3L379.6,92.0L379.7,92.7L379.8,93.4L379.9,94.1L380.0,94.8L380.1,95.5L380.2,96.1L380.3,96.8L380.4,97.5L380.5,98.2L380.6,98.9L380.7,99.6L380.8,100.3L381.0,101.0L381.1,101.7L381.2,102.4L381.4,103.0L381.5,103.7L381.6,104.4L381.8,105.1L381.9,105.8L382.1,106.5L382.3,107.1L382.4,107.8L382.6,108.5L382.8,109.2L382.9,109.8L383.1,110.5L383.3,111.2L383.5,111.9L383.7,112.5L383.9,113.2L384.1,113.9L384.3,114.5L384.6,115.2L384.8,115.9L385.0,116.5L385.2,117.2L385.5,117.8L385.7,118.5L386.0,119.1L386.3,119.8L386.5,120.4L386.8,121.1L387.1,121.7L387.4,122.4L387.7,123.0L387.9,123.6L388.3,124.3L388.6,124.9L388.9,125.5L389.2,126.1L389.5,126.7L389.9,127.4L390.2,128.0L390.6,128.6L390.9,129.2L391.3,129.8L391.7,130.4L392.0,131.0L392.4,131.5L392.8,132.1L393.2,132.7L393.6,133.3L394.0,133.8L394.4,134.4L394.9,134.9L395.3,135.5L395.7,136.0L396.2,136.6L396.7,137.1L397.1,137.6L397.6,138.1L398.1,138.6L398.6,139.1L399.1,139.6L399.6,140.1L400.1,140.6L400.6,141.1L401.1,141.5L401.7,142.0L402.2,142.4L402.7,142.8L403.3,143.3L403.9,143.7L404.4,144.1L405.0,144.5L405.6,144.9L406.2,145.2L406.8,145.6L407.4,145.9L408.0,146.3L408.6,146.6L409.2,146.9L409.9,147.2L410.5,147.5L411.1,147.8L411.8,148.1L412.4,148.4L413.1,148.7L413.7,148.9L414.4,149.2L415.0,149.4L415.7,149.7L416.3,149.9L417.0,150.2L417.6,150.4L418.3,150.6L419.0,150.8L419.6,151.0L420.3,151.3L421.0,151.5L421.6,151.7L422.3,151.9L423.0,152.1L423.6,152.3L424.3,152.5L425.0,152.7L425.7,152.8L426.3,153.0L427.0,153.2L427.7,153.4L428.4,153.6L429.0,153.7L429.7,153.9L430.4,154.1L431.1,154.3L431.8,154.4L432.4,154.6L433.1,154.7L433.8,154.9L434.5,155.1L435.2,155.2L435.8,155.4L436.5,155.5L437.2,155.7L437.9,155.8L438.6,156.0L439.3,156.1L439.9,156.3L440.6,156.4L441.3,156.6L442.0,156.7L442.7,156.8L443.4,157.0L444.0,157.1L444.7,157.3L445.4,157.4L446.1,157.5L446.8,157.7L447.5,157.8L448.2,157.9L448.8,158.1L449.5,158.2L450.2,158.3L450.9,158.5L451.6,158.6L452.3,158.7L453.0,158.9L453.6,159.0L454.3,159.1L455.0,159.3L455.7,159.4L456.4,159.6L457.1,159.7L457.8,159.8L458.4,160.0L459.1,160.1L459.8,160.3L460.5,160.4L461.2,160.5L461.9,160.7L462.6,160.8L463.2,161.0L463.9,161.1L464.6,161.3L465.3,161.4L466.0,161.6L466.7,161.7L467.3,161.9L468.0,162.1L468.7,162.2L469.4,162.4L470.1,162.5L470.7,162.7L471.4,162.9L472.1,163.1L472.8,163.2L473.4,163.4L474.1,163.6L474.8,163.8L475.5,163.9L476.1,164.1L476.8,164.3L477.5,164.5L478.2,164.7L478.8,164.9L479.5,165.1L480.2,165.3L480.9,165.4L481.5,165.6L482.2,165.8L482.9,166.0L483.5,166.2L484.2,166.4L484.9,166.6L485.6,166.8L486.2,167.0L486.9,167.1L487.6,167.3L488.3,167.5L488.9,167.7L489.6,167.9L490.3,168.0L491.0,168.2L491.6,168.4L492.3,168.6L493.0,168.7L493.7,168.9L494.4,169.0L495.0,169.2L495.7,169.3L496.4,169.5L497.1,169.6L497.8,169.8L498.5,169.9L499.2,170.0L499.8,170.2L500.5,170.3L501.2,170.4L501.9,170.5L502.6,170.6L503.3,170.7L504.0,170.8L504.7,170.9L505.4,170.9L506.1,171.0L506.8,171.1L507.5,171.1L508.2,171.2L508.9,171.2L509.6,171.2L510.3,171.2L511.0,171.3L511.7,171.3L512.4,171.3L513.1,171.2L513.8,171.2L514.5,171.2L515.2,171.1L515.9,171.1L516.6,171.0L517.2,171.0L517.9,170.9L518.6,170.8L519.3,170.7L520.0,170.6L520.7,170.5L521.4,170.4L522.1,170.3L522.8,170.2L523.5,170.1L524.2,170.0L524.9,169.8L525.5,169.7L526.2,169.6L526.9,169.5L527.6,169.3L528.3,169.2L529.0,169.1L529.7,168.9L530.4,168.8L531.0,168.7L531.7,168.6L532.4,168.4L533.1,168.3L533.8,168.2L534.5,168.1L535.2,168.0L535.9,167.9L536.6,167.8L537.3,167.7L537.9,167.6L538.6,167.5L539.3,167.4L540.0,167.3L540.7,167.2L541.4,167.1L542.1,167.0L542.8,167.0L543.5,166.9L544.2,166.8L544.9,166.8L545.6,166.7L546.3,166.6L547.0,166.6L547.7,166.5L548.4,166.5L549.1,166.4L549.8,166.4L550.5,166.3L551.2,166.3L551.9,166.3L552.6,166.2L553.3,166.2L554.0,166.2L554.7,166.1L555.4,166.1L556.1,166.1L556.8,166.1L557.4,166.0L558.1,166.0L558.8,166.0L559.5,166.0L560.2,166.0L560.9,166.0L561.6,166.0L562.3,166.0L563.0,165.9L563.7,165.9L564.4,165.9L565.1,165.9L565.8,165.9L566.5,165.9L567.2,165.9L567.9,165.9L568.6,165.9L569.3,165.9L570.0,165.9L570.7,165.9L571.4,165.9L572.1,165.9L572.8,165.9L573.5,165.9L574.2,165.9L574.9,165.9L575.6,165.9L576.3,165.9L577.0,165.9L577.7,165.9L578.4,165.9L579.1,165.9L579.8,165.9L580.5,165.9L581.2,165.9L581.9,165.9L582.6,165.8L583.3,165.8L584.0,165.8L584.7,165.8L585.4,165.8L586.1,165.8L586.8,165.7L587.5,165.7L588.2,165.7L588.9,165.7L589.6,165.6L590.3,165.6L591.0,165.6" stroke="#e19c24" stroke-width="1.3" fill="none" stroke-linejoin="round" clip-path="url(#ctr)"/>
<path d="M373.59,29.95L373.6,30.6L373.7,31.3L373.8,32.0L373.8,32.7L373.9,33.4L373.9,34.1L374.0,34.8L374.0,35.5L374.1,36.2L374.1,36.9L374.2,37.6L374.2,38.3L374.3,39.0L374.3,39.7L374.4,40.4L374.4,41.1L374.5,41.8L374.5,42.5L374.6,43.2L374.6,43.9L374.7,44.6L374.7,45.3L374.7,46.0L374.8,46.7L374.8,47.4L374.9,48.1L374.9,48.8L374.9,49.5L375.0,50.2L375.0,50.9L375.1,51.6L375.1,52.3L375.1,53.0L375.2,53.7L375.2,54.4L375.3,55.0L375.3,55.7L375.3,56.4L375.4,57.1L375.4,57.8L375.5,58.5L375.5,59.2L375.5,59.9L375.6,60.6L375.6,61.3L375.6,62.0L375.7,62.7L375.7,63.4L375.8,64.1L375.8,64.8L375.9,65.5L375.9,66.2L375.9,66.9L376.0,67.6L376.0,68.3L376.1,69.0L376.1,69.7L376.1,70.4L376.2,71.1L376.2,71.8L376.3,72.5L376.3,73.2L376.4,73.9L376.4,74.6L376.5,75.3L376.5,76.0L376.6,76.7L376.6,77.4L376.7,78.1L376.7,78.8L376.8,79.5L376.8,80.2L376.9,80.9L377.0,81.5L377.0,82.2L377.1,82.9L377.1,83.6L377.2,84.3L377.3,85.0L377.3,85.7L377.4,86.4L377.4,87.1L377.5,87.8L377.6,88.5L377.7,89.2L377.7,89.9L377.8,90.6L377.9,91.3L377.9,92.0L378.0,92.7L378.1,93.4L378.2,94.1L378.3,94.8L378.3,95.5L378.4,96.1L378.5,96.8L378.6,97.5L378.7,98.2L378.8,98.9L378.9,99.6L379.0,100.3L379.1,101.0L379.2,101.7L379.3,102.4L379.4,103.1L379.5,103.8L379.6,104.5L379.7,105.1L379.8,105.8L379.9,106.5L380.0,107.2L380.2,107.9L380.3,108.6L380.4,109.3L380.6,110.0L380.7,110.6L380.8,111.3L381.0,112.0L381.1,112.7L381.3,113.4L381.4,114.1L381.6,114.7L381.8,115.4L381.9,116.1L382.1,116.8L382.3,117.4L382.5,118.1L382.7,118.8L382.9,119.5L383.1,120.1L383.3,120.8L383.5,121.5L383.7,122.1L384.0,122.8L384.2,123.4L384.5,124.1L384.7,124.7L385.0,125.4L385.2,126.0L385.5,126.7L385.8,127.3L386.1,128.0L386.4,128.6L386.7,129.2L387.0,129.8L387.3,130.5L387.6,131.1L388.0,131.7L388.3,132.3L388.7,132.9L389.0,133.5L389.4,134.1L389.8,134.7L390.2,135.2L390.6,135.8L391.0,136.4L391.4,136.9L391.8,137.5L392.3,138.0L392.7,138.6L393.2,139.1L393.6,139.7L394.1,140.2L394.6,140.7L395.1,141.2L395.5,141.7L396.0,142.2L396.5,142.7L397.1,143.1L397.6,143.6L398.1,144.1L398.6,144.5L399.2,145.0L399.7,145.4L400.3,145.8L400.9,146.2L401.4,146.6L402.0,147.0L402.6,147.4L403.2,147.8L403.8,148.2L404.4,148.5L405.0,148.9L405.6,149.2L406.2,149.6L406.8,149.9L407.4,150.2L408.0,150.5L408.7,150.8L409.3,151.1L409.9,151.4L410.6,151.7L411.2,152.0L411.9,152.3L412.5,152.5L413.2,152.8L413.8,153.0L414.5,153.3L415.1,153.5L415.8,153.8L416.4,154.0L417.1,154.2L417.8,154.5L418.4,154.7L419.1,154.9L419.7,155.1L420.4,155.3L421.1,155.5L421.8,155.7L422.4,155.9L423.1,156.1L423.8,156.3L424.4,156.5L425.1,156.6L425.8,156.8L426.5,157.0L427.1,157.2L427.8,157.3L428.5,157.5L429.2,157.7L429.9,157.9L430.5,158.0L431.2,158.2L431.9,158.4L432.6,158.5L433.3,158.7L433.9,158.8L434.6,159.0L435.3,159.2L436.0,159.3L436.7,159.5L437.3,159.7L438.0,159.8L438.7,160.0L439.4,160.2L440.0,160.3L440.7,160.5L441.4,160.7L442.1,160.8L442.8,161.0L443.4,161.2L444.1,161.3L444.8,161.5L445.5,161.7L446.1,161.8L446.8,162.0L447.5,162.2L448.2,162.4L448.9,162.5L449.5,162.7L450.2,162.9L450.9,163.1L451.6,163.2L452.2,163.4L452.9,163.6L453.6,163.8L454.3,163.9L454.9,164.1L455.6,164.3L456.3,164.5L457.0,164.6L457.7,164.8L458.3,165.0L459.0,165.2L459.7,165.3L460.4,165.5L461.0,165.7L461.7,165.9L462.4,166.1L463.1,166.2L463.7,166.4L464.4,166.6L465.1,166.8L465.8,166.9L466.4,167.1L467.1,167.3L467.8,167.5L468.5,167.6L469.2,167.8L469.8,168.0L470.5,168.1L471.2,168.3L471.9,168.4L472.6,168.6L473.2,168.7L473.9,168.9L474.6,169.0L475.3,169.1L476.0,169.2L476.7,169.4L477.4,169.5L478.1,169.6L478.7,169.7L479.4,169.7L480.1,169.8L480.8,169.9L481.5,169.9L482.2,170.0L482.9,170.0L483.6,170.1L484.3,170.1L485.0,170.1L485.7,170.1L486.4,170.0L487.1,170.0L487.8,170.0L488.5,169.9L489.2,169.9L489.9,169.8L490.6,169.8L491.3,169.7L492.0,169.6L492.7,169.6L493.4,169.5L494.1,169.4L494.8,169.3L495.5,169.2L496.2,169.1L496.8,169.0L497.5,168.9L498.2,168.8L498.9,168.7L499.6,168.6L500.3,168.5L501.0,168.4L501.7,168.3L502.4,168.2L503.1,168.1L503.8,168.0L504.5,168.0L505.1,167.9L505.8,167.8L506.5,167.7L507.2,167.6L507.9,167.5L508.6,167.5L509.3,167.4L510.0,167.3L510.7,167.2L511.4,167.2L512.1,167.1L512.8,167.0L513.5,167.0L514.2,166.9L514.9,166.8L515.6,166.8L516.3,166.7L517.0,166.6L517.7,166.6L518.4,166.5L519.1,166.5L519.8,166.4L520.4,166.4L521.1,166.3L521.8,166.3L522.5,166.2L523.2,166.2L523.9,166.1L524.6,166.1L525.3,166.0L526.0,166.0L526.7,165.9L527.4,165.9L528.1,165.9L528.8,165.8L529.5,165.8L530.2,165.8L530.9,165.7L531.6,165.7L532.3,165.7L533.0,165.6L533.7,165.6L534.4,165.6L535.1,165.5L535.8,165.5L536.5,165.5L537.2,165.5L537.9,165.4L538.6,165.4L539.3,165.4L540.0,165.4L540.7,165.4L541.4,165.3L542.1,165.3L542.8,165.3L543.5,165.3L544.2,165.3L544.9,165.2L545.6,165.2L546.3,165.2L547.0,165.2L547.7,165.2L548.4,165.2L549.1,165.2L549.8,165.2L550.5,165.1L551.2,165.1L551.9,165.1L552.6,165.1L553.3,165.1L554.0,165.1L554.7,165.1L555.4,165.1L556.1,165.1L556.8,165.1L557.5,165.1L558.2,165.1L558.9,165.1L559.6,165.1L560.3,165.1L560.9,165.1L561.6,165.1L562.3,165.1L563.0,165.1L563.7,165.0L564.4,165.0L565.1,165.0L565.8,165.0L566.5,165.0L567.2,165.0L567.9,165.0L568.6,165.0L569.3,165.0L570.0,165.0L570.7,165.0L571.4,165.0L572.1,165.0L572.8,165.0L573.5,165.0L574.2,165.0L574.9,165.0L575.6,165.0L576.3,165.0L577.0,165.0L577.7,165.0L578.4,165.0L579.1,165.0L579.8,165.0L580.5,165.0L581.2,165.0L581.9,165.0L582.6,165.0L583.3,165.0L584.0,165.0L584.7,165.0L585.4,165.0L586.1,165.0L586.8,165.0L587.5,165.0L588.2,165.0L588.9,165.0L589.6,165.0L590.3,165.0L591.0,165.0" stroke="#8fb032" stroke-width="1.3" fill="none" stroke-linejoin="round" clip-path="url(#ctr)"/>
<g opacity="0.55"><path d="M369.45,164.40H590.55" stroke="#4a4a4a" stroke-width="1.05" fill="none"/><path d="M376.82,164.40V162.70M384.19,164.40V162.70M391.56,164.40V162.70M398.93,164.40V161.80M406.30,164.40V162.70M413.67,164.40V162.70M421.04,164.40V162.70M428.41,164.40V161.80M435.78,164.40V162.70M443.15,164.40V162.70M450.52,164.40V162.70M457.89,164.40V161.80M465.26,164.40V162.70M472.63,164.40V162.70M480.00,164.40V162.70M487.37,164.40V161.80M494.74,164.40V162.70M502.11,164.40V162.70M509.48,164.40V162.70M516.85,164.40V161.80M524.22,164.40V162.70M531.59,164.40V162.70M538.96,164.40V162.70M546.33,164.40V161.80M553.70,164.40V162.70M561.07,164.40V162.70M568.44,164.40V162.70M575.81,164.40V161.80M583.18,164.40V162.70M590.55,164.40V162.70" stroke="#4a4a4a" stroke-width="0.85" fill="none"/></g>
<line x1="619.20" y1="69.40" x2="633.20" y2="69.40" stroke="#5e81b5" stroke-width="1.5" opacity="0.72"/>
<text transform="translate(639.47,74.00) scale(1.25,1)" font-style="italic">γ</text>
<text transform="translate(646.44,75.20) scale(1.12,1)">=</text>
<text transform="translate(654.69,75.20) scale(1.12,1)">−</text>
<text x="662.57" y="74.00">1</text>
<text x="669.39" y="74.00">/</text>
<text x="672.77" y="74.00">1</text>
<text x="679.42" y="74.00">2</text>
<line x1="619.20" y1="90.20" x2="633.20" y2="90.20" stroke="#e19c24" stroke-width="1.5" opacity="0.72"/>
<text transform="translate(639.47,94.80) scale(1.25,1)" font-style="italic">γ</text>
<text transform="translate(646.44,96.00) scale(1.12,1)">=</text>
<text x="654.55" y="94.80">0</text>
<line x1="619.20" y1="111.00" x2="633.20" y2="111.00" stroke="#8fb032" stroke-width="1.5" opacity="0.72"/>
<text transform="translate(639.47,115.60) scale(1.25,1)" font-style="italic">γ</text>
<text transform="translate(646.39,116.80) scale(1.12,1)">=</text>
<text x="654.32" y="115.60">1</text>
<text x="660.49" y="115.60">/</text>
<text x="664.52" y="115.60">1</text>
<text x="671.37" y="115.60">2</text>
<text transform="translate(442.84,16.60) scale(1.12,1)" font-style="italic">α</text>
<text x="451.44" y="18.40" font-size="8.2" style="stroke-width:0.25px">1</text>
<text transform="translate(455.94,17.80) scale(1.12,1)">=</text>
<text transform="translate(464.29,17.80) scale(1.12,1)">−</text>
<text x="472.35" y="16.60">0</text>
<text x="478.62" y="16.60">.</text>
<text x="481.87" y="16.60">2</text>
<text x="488.49" y="16.60">,</text>
<text transform="translate(491.50,16.60) scale(1.1,1)" font-style="italic">γ</text>
<text x="498.19" y="18.40" font-size="8.2" style="stroke-width:0.25px">1</text>
<text transform="translate(502.84,17.80) scale(1.12,1)">=</text>
<text x="510.95" y="16.60">0</text>
<text x="356.53" y="31.90">I</text>
<text x="360.66" y="31.90">m</text>
<text transform="translate(373.16,31.90) scale(0.9,1)" font-style="italic">σ</text>
<path d="M376.40,25.80H382.10" stroke="#000" stroke-width="1.1" fill="none"/>
<text transform="translate(598.50,162.90) scale(1.15,1)" font-style="italic" font-size="9.5" style="stroke-width:0.02px">ω</text>
<line x1="597.50" y1="163.30" x2="606.90" y2="163.30" stroke="#000" stroke-width="0.75"/>
<text x="597.67" y="172.90" font-style="italic" font-size="9.5" style="stroke-width:0.08px">T</text>
<text x="602.72" y="173.90" font-style="italic" font-size="6.8" style="stroke-width:0.02px">c</text>
<path d="M13.31,353.10H235.38M17.50,356.04V219.14" stroke="#4a4a4a" stroke-width="1.05" fill="none"/>
<path d="M25.88,353.10V351.40M34.26,353.10V351.40M42.64,353.10V351.40M51.02,353.10V351.40M59.40,353.10V350.50M67.78,353.10V351.40M76.16,353.10V351.40M84.54,353.10V351.40M92.92,353.10V351.40M101.30,353.10V350.50M109.68,353.10V351.40M118.06,353.10V351.40M126.44,353.10V351.40M134.82,353.10V351.40M143.20,353.10V350.50M151.58,353.10V351.40M159.96,353.10V351.40M168.34,353.10V351.40M176.72,353.10V351.40M185.10,353.10V350.50M193.48,353.10V351.40M201.86,353.10V351.40M210.24,353.10V351.40M218.62,353.10V351.40M227.00,353.10V350.50M235.38,353.10V351.40M17.50,347.65H19.20M17.50,342.20H19.20M17.50,336.75H19.20M17.50,331.30H20.10M17.50,325.85H19.20M17.50,320.40H19.20M17.50,314.95H19.20M17.50,309.50H20.10M17.50,304.05H19.20M17.50,298.60H19.20M17.50,293.15H19.20M17.50,287.70H20.10M17.50,282.25H19.20M17.50,276.80H19.20M17.50,271.35H19.20M17.50,265.90H20.10M17.50,260.45H19.20M17.50,255.00H19.20M17.50,249.55H19.20M17.50,244.10H20.10M17.50,238.65H19.20M17.50,233.20H19.20M17.50,227.75H19.20M17.50,222.30H20.10" stroke="#4a4a4a" stroke-width="0.85" fill="none"/>
<text x="56.03" y="367.20">5</text>
<text x="94.48" y="367.20">1</text>
<text x="100.98" y="367.20">0</text>
<text x="136.38" y="367.20">1</text>
<text x="142.88" y="367.20">5</text>
<text x="178.56" y="367.20">2</text>
<text x="185.06" y="367.20">0</text>
<text x="220.47" y="367.20">2</text>
<text x="226.97" y="367.20">5</text>
<text x="-0.93" y="335.90">0</text>
<text x="5.57" y="335.90">.</text>
<text x="8.82" y="335.90">2</text>
<text x="-1.45" y="314.10">0</text>
<text x="5.05" y="314.10">.</text>
<text x="8.30" y="314.10">4</text>
<text x="-1.26" y="292.30">0</text>
<text x="5.24" y="292.30">.</text>
<text x="8.49" y="292.30">6</text>
<text x="-1.15" y="270.50">0</text>
<text x="5.35" y="270.50">.</text>
<text x="8.60" y="270.50">8</text>
<text x="-1.15" y="248.70">1</text>
<text x="5.35" y="248.70">.</text>
<text x="8.60" y="248.70">0</text>
<text x="-0.93" y="226.90">1</text>
<text x="5.57" y="226.90">.</text>
<text x="8.82" y="226.90">2</text>
<path d="M17.54,353.10L18.2,353.1L18.9,353.1L19.6,353.1L20.3,353.1L21.0,353.1L21.7,353.1L22.4,353.1L23.1,353.1L23.8,353.1L24.5,353.1L25.2,353.1L25.9,353.1L26.6,353.1L27.3,353.1L28.0,353.1L28.7,353.1L29.4,353.1L30.1,353.1L30.8,353.1L31.5,353.1L32.2,353.1L32.9,353.1L33.6,353.1L34.3,353.1L35.0,353.1L35.7,353.1L36.4,353.1L37.1,353.1L37.8,353.1L38.5,353.1L39.2,353.1L39.9,353.1L40.6,353.1L41.3,353.1L42.0,353.1L42.7,353.1L43.4,353.1L44.1,353.1L44.8,353.1L45.5,353.1L46.2,353.1L46.9,353.1L47.6,353.1L48.3,353.1L49.0,353.1L49.7,353.1L50.4,353.1L51.1,353.1L51.8,353.1L52.5,353.1L53.2,353.1L53.9,353.1L54.6,353.1L55.3,353.1L56.0,353.1L56.7,353.1L57.4,353.1L58.1,353.1L58.8,353.0L59.5,353.0L60.2,353.0L60.9,353.0L61.6,353.0L62.3,353.0L63.0,353.0L63.7,353.0L64.4,353.0L65.1,353.0L65.8,353.0L66.5,353.0L67.2,353.1L67.9,353.1L68.6,353.1L69.2,353.1L69.9,353.1L70.6,353.1L71.3,353.1L72.0,353.1L72.7,353.1L73.4,353.1L74.1,353.1L74.8,353.1L75.5,353.1L76.2,353.1L76.9,353.1L77.6,353.1L78.3,353.1L79.0,353.1L79.7,353.1L80.4,352.9L81.0,352.7L81.7,352.4L82.3,352.1L82.9,351.7L83.5,351.3L84.0,350.9L84.5,350.4L85.0,349.9L85.5,349.4L85.9,348.8L86.3,348.3L86.7,347.7L87.1,347.1L87.4,346.5L87.7,345.8L88.0,345.2L88.3,344.6L88.5,343.9L88.8,343.3L89.0,342.6L89.2,341.9L89.4,341.3L89.5,340.6L89.7,339.9L89.8,339.2L90.0,338.5L90.1,337.8L90.2,337.1L90.3,336.5L90.3,335.8L90.4,335.1L90.5,334.4L90.5,333.7L90.6,333.0L90.6,332.3L90.7,331.6L90.7,330.9L90.7,330.2L90.8,329.5L90.8,328.8L90.8,328.1L90.9,327.4L90.9,326.7L90.9,326.0L91.0,325.3L91.0,324.6L91.0,323.9L91.1,323.2L91.1,322.5L91.1,321.8L91.2,321.1L91.2,320.4L91.2,319.7L91.3,319.0L91.3,318.3L91.3,317.6L91.4,316.9L91.4,316.2L91.4,315.5L91.4,314.8L91.5,314.1L91.5,313.4L91.5,312.7L91.6,312.0L91.6,311.3L91.6,310.6L91.6,309.9L91.7,309.2L91.7,308.5L91.7,307.8L91.8,307.1L91.8,306.4L91.8,305.7L91.8,305.0L91.9,304.3L91.9,303.6L91.9,303.0L91.9,302.3L92.0,301.6L92.0,300.9L92.0,300.2L92.1,299.5L92.1,298.8L92.1,298.1L92.1,297.4L92.2,296.7L92.2,296.0L92.2,295.3L92.3,294.6L92.3,293.9L92.3,293.2L92.3,292.5L92.4,291.8L92.4,291.1L92.4,290.4L92.5,289.7L92.5,289.0L92.5,288.3L92.5,287.6L92.6,286.9L92.6,286.2L92.6,285.5L92.7,284.8L92.7,284.1L92.7,283.4L92.8,282.7L92.8,282.0L92.8,281.3L92.9,280.6L92.9,279.9L92.9,279.2L93.0,278.5L93.0,277.8L93.0,277.1L93.1,276.4L93.1,275.7L93.1,275.0L93.2,274.3L93.2,273.6L93.2,272.9L93.3,272.2L93.3,271.5L93.4,270.8L93.4,270.1L93.4,269.4L93.5,268.7L93.5,268.0L93.5,267.3L93.6,266.6L93.6,265.9L93.7,265.3L93.7,264.6L93.7,263.9L93.8,263.2L93.8,262.5L93.8,261.8L93.9,261.1L93.9,260.4L94.0,259.7L94.0,259.0L94.0,258.3L94.1,257.6L94.1,256.9L94.1,256.2L94.2,255.5L94.2,254.8L94.3,254.1L94.3,253.4L94.3,252.7L94.4,252.0L94.4,251.3L94.4,250.6L94.5,249.9L94.5,249.2L94.5,248.5L94.6,247.8L94.6,247.1L94.6,246.4L94.7,245.7L94.7,245.0L94.7,244.3L94.8,243.6L94.8,242.9L94.8,242.2L94.9,241.5L94.9,240.8L94.9,240.1L95.0,239.4L95.0,238.7L95.0,238.0L95.1,237.3L95.1,236.6L95.2,235.9L95.3,235.2L95.4,234.6L95.5,233.9L95.7,233.2L95.9,232.5L96.1,231.9L96.4,231.2L96.7,230.6L97.0,230.0L97.4,229.4L97.8,228.9L98.4,228.4L98.9,228.0L99.6,227.7L100.3,227.5L100.9,227.4L101.6,227.3L102.3,227.3L103.0,227.4L103.7,227.4L104.4,227.5L105.1,227.6L105.8,227.7L106.5,227.8L107.2,228.0L107.9,228.1L108.5,228.3L109.2,228.5L109.9,228.7L110.6,228.9L111.2,229.1L111.9,229.3L112.5,229.5L113.2,229.8L113.9,230.0L114.5,230.3L115.2,230.5L115.8,230.8L116.5,231.0L117.1,231.3L117.8,231.6L118.4,231.8L119.1,232.1L119.7,232.3L120.3,232.6L121.0,232.9L121.6,233.1L122.3,233.4L123.0,233.6L123.6,233.9L124.3,234.1L124.9,234.3L125.6,234.5L126.3,234.8L126.9,235.0L127.6,235.2L128.3,235.4L128.9,235.6L129.6,235.7L130.3,235.9L131.0,236.1L131.6,236.3L132.3,236.4L133.0,236.6L133.7,236.7L134.4,236.9L135.0,237.0L135.7,237.2L136.4,237.3L137.1,237.4L137.8,237.6L138.5,237.7L139.2,237.8L139.9,237.9L140.5,238.0L141.2,238.2L141.9,238.3L142.6,238.4L143.3,238.5L144.0,238.6L144.7,238.7L145.4,238.8L146.1,238.8L146.8,238.9L147.5,239.0L148.2,239.1L148.9,239.2L149.5,239.3L150.2,239.4L150.9,239.4L151.6,239.5L152.3,239.6L153.0,239.7L153.7,239.8L154.4,239.8L155.1,239.9L155.8,240.0L156.5,240.0L157.2,240.1L157.9,240.2L158.6,240.2L159.3,240.3L160.0,240.4L160.7,240.4L161.4,240.5L162.1,240.6L162.8,240.6L163.5,240.7L164.2,240.7L164.8,240.8L165.5,240.8L166.2,240.9L166.9,240.9L167.6,241.0L168.3,241.0L169.0,241.1L169.7,241.1L170.4,241.2L171.1,241.2L171.8,241.3L172.5,241.3L173.2,241.4L173.9,241.4L174.6,241.4L175.3,241.5L176.0,241.5L176.7,241.5L177.4,241.6L178.1,241.6L178.8,241.7L179.5,241.7L180.2,241.7L180.9,241.8L181.6,241.8L182.3,241.8L183.0,241.8L183.7,241.9L184.4,241.9L185.1,241.9L185.8,242.0L186.5,242.0L187.2,242.0L187.9,242.0L188.6,242.1L189.3,242.1L190.0,242.1L190.7,242.1L191.4,242.1L192.1,242.2L192.8,242.2L193.5,242.2L194.2,242.2L194.9,242.3L195.6,242.3L196.3,242.3L197.0,242.3L197.7,242.3L198.4,242.3L199.1,242.4L199.8,242.4L200.5,242.4L201.2,242.4L201.8,242.4L202.5,242.4L203.2,242.4L203.9,242.5L204.6,242.5L205.3,242.5L206.0,242.5L206.7,242.5L207.4,242.5L208.1,242.5L208.8,242.5L209.5,242.6L210.2,242.6L210.9,242.6L211.6,242.6L212.3,242.6L213.0,242.6L213.7,242.6L214.4,242.6L215.1,242.7L215.8,242.7L216.5,242.7L217.2,242.7L217.9,242.7L218.6,242.7L219.3,242.7L220.0,242.7L220.7,242.7L221.4,242.7L222.1,242.8L222.8,242.8L223.5,242.8L224.2,242.8L224.9,242.8L225.6,242.8L226.3,242.8L227.0,242.8L227.7,242.9L228.4,242.9L229.1,242.9L229.8,242.9L230.5,242.9" stroke="#5e81b5" stroke-width="1.3" fill="none" stroke-linejoin="round"/>
<path d="M17.49,353.10L18.2,353.1L18.9,353.1L19.6,353.1L20.3,353.1L21.0,353.1L21.7,353.1L22.4,353.1L23.1,353.1L23.8,353.1L24.5,353.1L25.2,353.1L25.9,353.1L26.6,353.1L27.3,353.1L28.0,353.1L28.7,353.1L29.4,353.1L30.1,353.1L30.8,353.1L31.5,353.1L32.2,353.1L32.9,353.1L33.6,353.1L34.3,353.1L35.0,353.1L35.7,353.1L36.4,353.1L37.1,353.1L37.8,353.1L38.5,353.1L39.2,353.1L39.9,353.1L40.6,353.1L41.3,353.1L42.0,353.1L42.7,353.1L43.4,353.1L44.1,353.1L44.8,353.1L45.5,353.1L46.2,353.1L46.9,353.1L47.6,353.1L48.3,353.1L49.0,353.1L49.7,353.1L50.4,353.1L51.1,353.1L51.8,353.1L52.5,353.1L53.2,353.1L53.9,353.1L54.6,353.1L55.3,353.1L56.0,353.1L56.7,353.1L57.4,353.1L58.1,353.1L58.8,353.1L59.5,353.1L60.2,353.1L60.9,353.1L61.6,353.0L62.3,353.0L63.0,353.0L63.7,353.0L64.4,353.0L65.1,353.0L65.8,353.0L66.5,353.0L67.2,353.0L67.9,353.0L68.6,353.0L69.3,353.0L70.0,353.0L70.7,353.0L71.4,352.9L72.1,352.8L72.7,352.6L73.4,352.4L74.0,352.1L74.6,351.7L75.1,351.3L75.6,350.8L76.1,350.2L76.5,349.7L76.9,349.1L77.2,348.5L77.5,347.8L77.8,347.2L78.1,346.6L78.4,345.9L78.6,345.3L78.9,344.6L79.1,344.0L79.3,343.3L79.5,342.6L79.7,342.0L79.9,341.3L80.1,340.6L80.3,339.9L80.4,339.2L80.6,338.6L80.7,337.9L80.9,337.2L81.0,336.5L81.1,335.8L81.2,335.1L81.3,334.4L81.4,333.7L81.5,333.0L81.6,332.3L81.7,331.6L81.7,331.0L81.8,330.3L81.9,329.6L81.9,328.9L82.0,328.2L82.0,327.5L82.1,326.8L82.1,326.1L82.1,325.4L82.2,324.7L82.2,324.0L82.3,323.3L82.3,322.6L82.3,321.9L82.3,321.2L82.4,320.5L82.4,319.8L82.4,319.1L82.5,318.4L82.5,317.7L82.5,317.0L82.6,316.3L82.6,315.6L82.6,314.9L82.7,314.2L82.7,313.5L82.7,312.8L82.8,312.1L82.8,311.4L82.8,310.7L82.9,310.0L82.9,309.3L82.9,308.6L83.0,307.9L83.0,307.2L83.0,306.5L83.1,305.8L83.1,305.1L83.1,304.4L83.2,303.7L83.2,303.0L83.2,302.3L83.3,301.6L83.3,300.9L83.4,300.2L83.4,299.5L83.4,298.8L83.5,298.1L83.5,297.4L83.5,296.7L83.6,296.0L83.6,295.3L83.7,294.6L83.7,293.9L83.7,293.2L83.8,292.5L83.8,291.8L83.8,291.1L83.9,290.4L83.9,289.7L84.0,289.0L84.0,288.3L84.0,287.6L84.1,286.9L84.1,286.2L84.2,285.5L84.2,284.8L84.2,284.1L84.3,283.4L84.3,282.7L84.4,282.0L84.4,281.3L84.5,280.6L84.5,279.9L84.5,279.2L84.6,278.5L84.6,277.9L84.7,277.2L84.7,276.5L84.7,275.8L84.8,275.1L84.8,274.4L84.9,273.7L84.9,273.0L85.0,272.3L85.0,271.6L85.1,270.9L85.1,270.2L85.1,269.5L85.2,268.8L85.2,268.1L85.3,267.4L85.3,266.7L85.4,266.0L85.4,265.3L85.5,264.6L85.5,263.9L85.5,263.2L85.6,262.5L85.6,261.8L85.7,261.1L85.7,260.4L85.8,259.7L85.8,259.0L85.9,258.3L85.9,257.6L86.0,256.9L86.0,256.2L86.1,255.5L86.1,254.8L86.2,254.1L86.2,253.4L86.2,252.7L86.3,252.0L86.3,251.3L86.4,250.6L86.4,249.9L86.5,249.2L86.5,248.5L86.6,247.8L86.6,247.1L86.7,246.4L86.7,245.7L86.8,245.0L86.8,244.3L86.9,243.6L86.9,242.9L87.0,242.2L87.0,241.5L87.1,240.8L87.1,240.1L87.2,239.4L87.2,238.8L87.3,238.1L87.3,237.4L87.4,236.7L87.4,236.0L87.5,235.3L87.6,234.6L87.6,233.9L87.7,233.2L87.8,232.5L87.9,231.8L88.0,231.1L88.1,230.4L88.3,229.7L88.6,229.1L88.8,228.4L89.1,227.8L89.5,227.2L90.0,226.7L90.6,226.4L91.3,226.3L92.0,226.5L92.6,226.7L93.3,227.0L93.9,227.3L94.5,227.5L95.2,227.8L95.8,228.1L96.5,228.4L97.1,228.7L97.8,228.9L98.4,229.2L99.0,229.4L99.7,229.7L100.3,230.0L101.0,230.2L101.7,230.5L102.3,230.7L103.0,231.0L103.6,231.2L104.3,231.4L104.9,231.7L105.6,231.9L106.3,232.1L106.9,232.3L107.6,232.6L108.3,232.8L108.9,233.0L109.6,233.2L110.3,233.4L110.9,233.6L111.6,233.8L112.3,234.0L112.9,234.2L113.6,234.4L114.3,234.6L115.0,234.8L115.6,235.0L116.3,235.2L117.0,235.3L117.7,235.5L118.3,235.7L119.0,235.9L119.7,236.0L120.4,236.2L121.1,236.4L121.7,236.5L122.4,236.7L123.1,236.8L123.8,237.0L124.5,237.1L125.2,237.3L125.8,237.4L126.5,237.6L127.2,237.7L127.9,237.8L128.6,238.0L129.3,238.1L130.0,238.2L130.6,238.3L131.3,238.5L132.0,238.6L132.7,238.7L133.4,238.8L134.1,238.9L134.8,239.0L135.5,239.2L136.2,239.3L136.9,239.4L137.6,239.5L138.3,239.6L138.9,239.7L139.6,239.8L140.3,239.8L141.0,239.9L141.7,240.0L142.4,240.1L143.1,240.2L143.8,240.3L144.5,240.3L145.2,240.4L145.9,240.5L146.6,240.6L147.3,240.6L148.0,240.7L148.7,240.8L149.4,240.8L150.1,240.9L150.8,241.0L151.5,241.0L152.2,241.1L152.9,241.2L153.6,241.2L154.3,241.3L154.9,241.3L155.6,241.4L156.3,241.4L157.0,241.5L157.7,241.5L158.4,241.5L159.1,241.6L159.8,241.6L160.5,241.7L161.2,241.7L161.9,241.8L162.6,241.8L163.3,241.8L164.0,241.9L164.7,241.9L165.4,241.9L166.1,241.9L166.8,242.0L167.5,242.0L168.2,242.0L168.9,242.1L169.6,242.1L170.3,242.1L171.0,242.1L171.7,242.1L172.4,242.2L173.1,242.2L173.8,242.2L174.5,242.2L175.2,242.2L175.9,242.3L176.6,242.3L177.3,242.3L178.0,242.3L178.7,242.3L179.4,242.3L180.1,242.3L180.8,242.4L181.5,242.4L182.2,242.4L182.9,242.4L183.6,242.4L184.3,242.4L185.0,242.4L185.7,242.4L186.4,242.4L187.1,242.4L187.8,242.4L188.5,242.5L189.2,242.5L189.9,242.5L190.6,242.5L191.3,242.5L192.0,242.5L192.7,242.5L193.4,242.5L194.1,242.5L194.8,242.5L195.5,242.5L196.2,242.5L196.9,242.5L197.6,242.5L198.3,242.5L199.0,242.5L199.7,242.5L200.4,242.6L201.1,242.6L201.8,242.6L202.5,242.6L203.2,242.6L203.9,242.6L204.6,242.6L205.3,242.6L206.0,242.6L206.7,242.6L207.4,242.6L208.1,242.6L208.8,242.7L209.5,242.7L210.2,242.7L210.9,242.7L211.6,242.7L212.3,242.7L213.0,242.7L213.7,242.7L214.4,242.8L215.1,242.8L215.8,242.8L216.5,242.8L217.2,242.8L217.9,242.8L218.6,242.9L219.3,242.9L220.0,242.9L220.7,242.9L221.4,243.0L222.1,243.0L222.8,243.0L223.5,243.0L224.2,243.1L224.9,243.1L225.6,243.1L226.3,243.2L227.0,243.2L227.7,243.2L228.4,243.3L229.1,243.3L229.8,243.3L230.5,243.4" stroke="#e19c24" stroke-width="1.3" fill="none" stroke-linejoin="round"/>
<path d="M17.52,353.06L18.2,353.1L18.9,353.1L19.6,353.1L20.3,353.1L21.0,353.1L21.7,353.1L22.4,353.1L23.1,353.1L23.8,353.1L24.5,353.1L25.2,353.1L25.9,353.1L26.6,353.1L27.3,353.1L28.0,353.1L28.7,353.1L29.4,353.1L30.1,353.1L30.8,353.1L31.5,353.0L32.2,353.0L32.9,353.0L33.6,353.0L34.3,353.0L35.0,353.0L35.7,353.0L36.4,353.0L37.1,353.0L37.8,353.0L38.5,353.0L39.2,353.0L39.9,353.1L40.6,353.1L41.3,353.1L42.0,353.1L42.7,353.1L43.4,353.1L44.1,353.1L44.8,353.1L45.5,353.1L46.2,353.1L46.9,353.1L47.6,353.1L48.3,353.1L49.0,353.1L49.7,353.1L50.4,353.1L51.1,353.1L51.8,353.1L52.5,353.1L53.2,353.1L53.9,353.1L54.6,353.0L55.3,352.9L56.0,352.8L56.7,352.7L57.3,352.6L58.0,352.4L58.7,352.2L59.3,352.0L60.0,351.7L60.6,351.3L61.2,351.0L61.7,350.5L62.2,350.0L62.7,349.5L63.1,348.9L63.4,348.3L63.8,347.7L64.0,347.1L64.3,346.4L64.5,345.7L64.7,345.1L64.9,344.4L65.0,343.7L65.2,343.0L65.3,342.3L65.5,341.7L65.6,341.0L65.7,340.3L65.8,339.6L65.9,338.9L66.1,338.2L66.2,337.5L66.3,336.8L66.4,336.1L66.5,335.4L66.6,334.8L66.7,334.1L66.8,333.4L66.9,332.7L67.0,332.0L67.0,331.3L67.1,330.6L67.2,329.9L67.3,329.2L67.4,328.5L67.4,327.8L67.5,327.1L67.6,326.4L67.6,325.7L67.7,325.0L67.8,324.3L67.8,323.6L67.9,322.9L67.9,322.2L68.0,321.5L68.0,320.8L68.1,320.1L68.1,319.4L68.2,318.7L68.2,318.0L68.3,317.3L68.3,316.6L68.3,315.9L68.4,315.3L68.4,314.6L68.5,313.9L68.5,313.2L68.5,312.5L68.6,311.8L68.6,311.1L68.6,310.4L68.7,309.7L68.7,309.0L68.7,308.3L68.8,307.6L68.8,306.9L68.8,306.2L68.8,305.5L68.9,304.8L68.9,304.1L68.9,303.4L69.0,302.7L69.0,302.0L69.0,301.3L69.1,300.6L69.1,299.9L69.1,299.2L69.2,298.5L69.2,297.8L69.3,297.1L69.3,296.4L69.3,295.7L69.4,295.0L69.4,294.3L69.5,293.6L69.5,292.9L69.5,292.2L69.6,291.5L69.6,290.8L69.7,290.1L69.7,289.4L69.8,288.7L69.8,288.0L69.9,287.3L69.9,286.6L69.9,285.9L70.0,285.2L70.0,284.5L70.1,283.8L70.1,283.1L70.2,282.4L70.2,281.7L70.3,281.0L70.3,280.3L70.4,279.6L70.4,278.9L70.5,278.2L70.5,277.5L70.6,276.8L70.6,276.1L70.7,275.4L70.8,274.7L70.8,274.0L70.9,273.4L70.9,272.7L71.0,272.0L71.0,271.3L71.1,270.6L71.1,269.9L71.2,269.2L71.2,268.5L71.3,267.8L71.3,267.1L71.4,266.4L71.4,265.7L71.5,265.0L71.5,264.3L71.6,263.6L71.6,262.9L71.7,262.2L71.7,261.5L71.8,260.8L71.9,260.1L71.9,259.4L72.0,258.7L72.0,258.0L72.1,257.3L72.1,256.6L72.2,255.9L72.2,255.2L72.3,254.5L72.3,253.8L72.4,253.1L72.4,252.4L72.4,251.7L72.5,251.0L72.5,250.3L72.6,249.6L72.6,248.9L72.7,248.2L72.7,247.5L72.8,246.8L72.8,246.1L72.9,245.4L72.9,244.7L72.9,244.0L73.0,243.3L73.0,242.6L73.1,241.9L73.1,241.3L73.1,240.6L73.2,239.9L73.2,239.2L73.3,238.5L73.3,237.8L73.4,237.1L73.4,236.4L73.5,235.7L73.5,235.0L73.6,234.3L73.7,233.6L73.9,232.9L74.0,232.2L74.2,231.5L74.3,230.9L74.6,230.2L74.8,229.5L75.0,228.9L75.3,228.2L75.7,227.6L76.0,227.0L76.5,226.5L77.1,226.1L77.8,226.0L78.5,226.1L79.1,226.4L79.7,226.7L80.3,227.0L80.9,227.4L81.5,227.9L82.0,228.3L82.6,228.7L83.1,229.2L83.7,229.6L84.2,230.0L84.8,230.4L85.4,230.8L85.9,231.2L86.5,231.6L87.1,231.9L87.7,232.3L88.3,232.6L89.0,233.0L89.6,233.3L90.2,233.6L90.8,233.9L91.5,234.2L92.1,234.5L92.8,234.8L93.4,235.0L94.1,235.3L94.7,235.5L95.4,235.8L96.0,236.0L96.7,236.2L97.4,236.4L98.0,236.6L98.7,236.8L99.4,237.0L100.1,237.2L100.7,237.3L101.4,237.5L102.1,237.7L102.8,237.8L103.5,238.0L104.2,238.1L104.8,238.2L105.5,238.4L106.2,238.5L106.9,238.6L107.6,238.7L108.3,238.8L109.0,239.0L109.7,239.1L110.4,239.2L111.0,239.3L111.7,239.4L112.4,239.5L113.1,239.6L113.8,239.7L114.5,239.8L115.2,239.9L115.9,239.9L116.6,240.0L117.3,240.1L118.0,240.2L118.7,240.3L119.4,240.4L120.1,240.5L120.8,240.5L121.5,240.6L122.1,240.7L122.8,240.8L123.5,240.8L124.2,240.9L124.9,241.0L125.6,241.1L126.3,241.1L127.0,241.2L127.7,241.3L128.4,241.3L129.1,241.4L129.8,241.4L130.5,241.5L131.2,241.6L131.9,241.6L132.6,241.7L133.3,241.7L134.0,241.8L134.7,241.8L135.4,241.9L136.1,241.9L136.8,242.0L137.5,242.0L138.2,242.1L138.9,242.1L139.6,242.2L140.3,242.2L141.0,242.2L141.7,242.3L142.4,242.3L143.1,242.4L143.8,242.4L144.5,242.4L145.2,242.5L145.9,242.5L146.6,242.5L147.3,242.6L148.0,242.6L148.7,242.6L149.4,242.6L150.1,242.7L150.8,242.7L151.5,242.7L152.2,242.8L152.9,242.8L153.6,242.8L154.3,242.8L155.0,242.8L155.6,242.9L156.3,242.9L157.0,242.9L157.7,242.9L158.4,242.9L159.1,243.0L159.8,243.0L160.5,243.0L161.2,243.0L161.9,243.0L162.6,243.0L163.3,243.0L164.0,243.1L164.7,243.1L165.4,243.1L166.1,243.1L166.8,243.1L167.5,243.1L168.2,243.1L168.9,243.1L169.6,243.1L170.3,243.1L171.0,243.1L171.7,243.1L172.4,243.2L173.1,243.2L173.8,243.2L174.5,243.2L175.2,243.2L175.9,243.2L176.6,243.2L177.3,243.2L178.0,243.2L178.7,243.2L179.4,243.2L180.1,243.2L180.8,243.2L181.5,243.2L182.2,243.2L182.9,243.2L183.6,243.2L184.3,243.2L185.0,243.2L185.7,243.2L186.4,243.2L187.1,243.2L187.8,243.2L188.5,243.2L189.2,243.2L189.9,243.2L190.6,243.2L191.3,243.2L192.0,243.2L192.7,243.2L193.4,243.2L194.1,243.2L194.8,243.2L195.5,243.2L196.2,243.2L196.9,243.2L197.6,243.2L198.3,243.2L199.0,243.2L199.7,243.2L200.4,243.2L201.1,243.2L201.8,243.2L202.5,243.1L203.2,243.1L203.9,243.1L204.6,243.1L205.3,243.1L206.0,243.1L206.7,243.1L207.4,243.1L208.1,243.1L208.8,243.1L209.5,243.2L210.2,243.2L210.9,243.2L211.6,243.2L212.3,243.2L213.0,243.2L213.7,243.2L214.4,243.2L215.1,243.2L215.8,243.2L216.5,243.2L217.2,243.2L217.9,243.2L218.6,243.2L219.3,243.2L220.0,243.2L220.7,243.2L221.4,243.2L222.1,243.2L222.8,243.3L223.5,243.3L224.2,243.3L224.9,243.3L225.6,243.3L226.3,243.3L227.0,243.3L227.7,243.3L228.4,243.4L229.1,243.4L229.8,243.4L230.5,243.4" stroke="#8fb032" stroke-width="1.3" fill="none" stroke-linejoin="round"/>
<g opacity="0.55"><path d="M13.31,353.10H235.38" stroke="#4a4a4a" stroke-width="1.05" fill="none"/><path d="M25.88,353.10V351.40M34.26,353.10V351.40M42.64,353.10V351.40M51.02,353.10V351.40M59.40,353.10V350.50M67.78,353.10V351.40M76.16,353.10V351.40M84.54,353.10V351.40M92.92,353.10V351.40M101.30,353.10V350.50M109.68,353.10V351.40M118.06,353.10V351.40M126.44,353.10V351.40M134.82,353.10V351.40M143.20,353.10V350.50M151.58,353.10V351.40M159.96,353.10V351.40M168.34,353.10V351.40M176.72,353.10V351.40M185.10,353.10V350.50M193.48,353.10V351.40M201.86,353.10V351.40M210.24,353.10V351.40M218.62,353.10V351.40M227.00,353.10V350.50M235.38,353.10V351.40" stroke="#4a4a4a" stroke-width="0.85" fill="none"/></g>
<line x1="264.10" y1="254.30" x2="278.10" y2="254.30" stroke="#5e81b5" stroke-width="1.5" opacity="0.72"/>
<text transform="translate(284.37,258.90) scale(1.25,1)" font-style="italic">γ</text>
<text transform="translate(291.34,260.10) scale(1.12,1)">=</text>
<text transform="translate(299.59,260.10) scale(1.12,1)">−</text>
<text x="307.47" y="258.90">1</text>
<text x="314.29" y="258.90">/</text>
<text x="317.67" y="258.90">1</text>
<text x="324.32" y="258.90">2</text>
<line x1="264.10" y1="275.05" x2="278.10" y2="275.05" stroke="#e19c24" stroke-width="1.5" opacity="0.72"/>
<text transform="translate(284.37,279.65) scale(1.25,1)" font-style="italic">γ</text>
<text transform="translate(291.34,280.85) scale(1.12,1)">=</text>
<text x="299.45" y="279.65">0</text>
<line x1="264.10" y1="295.80" x2="278.10" y2="295.80" stroke="#8fb032" stroke-width="1.5" opacity="0.72"/>
<text transform="translate(284.37,300.40) scale(1.25,1)" font-style="italic">γ</text>
<text transform="translate(291.29,301.60) scale(1.12,1)">=</text>
<text x="299.22" y="300.40">1</text>
<text x="305.39" y="300.40">/</text>
<text x="309.42" y="300.40">1</text>
<text x="316.27" y="300.40">2</text>
<text transform="translate(91.34,197.80) scale(1.12,1)" font-style="italic">α</text>
<text x="99.39" y="199.60" font-size="8.2" style="stroke-width:0.25px">1</text>
<text transform="translate(103.84,199.00) scale(1.12,1)">=</text>
<text x="111.65" y="197.80">0</text>
<text x="118.28" y="197.80">.</text>
<text x="121.22" y="197.80">2</text>
<text x="127.79" y="197.80">,</text>
<text transform="translate(131.10,197.80) scale(1.1,1)" font-style="italic">γ</text>
<text x="137.99" y="199.60" font-size="8.2" style="stroke-width:0.25px">1</text>
<text transform="translate(142.64,199.00) scale(1.12,1)">=</text>
<text x="150.55" y="197.80">0</text>
<text x="4.79" y="213.30">R</text>
<text x="13.49" y="213.30">e</text>
<text transform="translate(21.26,213.30) scale(0.9,1)" font-style="italic">σ</text>
<path d="M24.50,207.20H30.20" stroke="#000" stroke-width="1.1" fill="none"/>
<text transform="translate(243.30,351.40) scale(1.15,1)" font-style="italic" font-size="9.5" style="stroke-width:0.02px">ω</text>
<line x1="242.30" y1="351.80" x2="251.70" y2="351.80" stroke="#000" stroke-width="0.75"/>
<text x="242.47" y="361.40" font-style="italic" font-size="9.5" style="stroke-width:0.08px">T</text>
<text x="247.52" y="362.40" font-style="italic" font-size="6.8" style="stroke-width:0.02px">c</text>
<path d="M369.45,353.20H590.55M369.45,371.00V233.20" stroke="#4a4a4a" stroke-width="1.05" fill="none"/>
<path d="M376.82,353.20V351.50M384.19,353.20V351.50M391.56,353.20V351.50M398.93,353.20V350.60M406.30,353.20V351.50M413.67,353.20V351.50M421.04,353.20V351.50M428.41,353.20V350.60M435.78,353.20V351.50M443.15,353.20V351.50M450.52,353.20V351.50M457.89,353.20V350.60M465.26,353.20V351.50M472.63,353.20V351.50M480.00,353.20V351.50M487.37,353.20V350.60M494.74,353.20V351.50M502.11,353.20V351.50M509.48,353.20V351.50M516.85,353.20V350.60M524.22,353.20V351.50M531.59,353.20V351.50M538.96,353.20V351.50M546.33,353.20V350.60M553.70,353.20V351.50M561.07,353.20V351.50M568.44,353.20V351.50M575.81,353.20V350.60M583.18,353.20V351.50M590.55,353.20V351.50M369.45,369.50H371.15M369.45,364.07H371.15M369.45,358.63H371.15M369.45,347.76H371.15M369.45,342.33H371.15M369.45,336.89H371.15M369.45,331.46H372.05M369.45,326.02H371.15M369.45,320.59H371.15M369.45,315.15H371.15M369.45,309.72H372.05M369.45,304.28H371.15M369.45,298.85H371.15M369.45,293.41H371.15M369.45,287.98H372.05M369.45,282.54H371.15M369.45,277.11H371.15M369.45,271.68H371.15M369.45,266.24H372.05M369.45,260.81H371.15M369.45,255.37H371.15M369.45,249.94H371.15M369.45,244.50H372.05M369.45,239.06H371.15M369.45,233.63H371.15" stroke="#4a4a4a" stroke-width="0.85" fill="none"/>
<text x="395.75" y="367.20">2</text>
<text x="425.13" y="367.20">4</text>
<text x="454.55" y="367.20">6</text>
<text x="484.12" y="367.20">8</text>
<text x="510.03" y="367.20">1</text>
<text x="516.53" y="367.20">0</text>
<text x="539.62" y="367.20">1</text>
<text x="546.12" y="367.20">2</text>
<text x="568.84" y="367.20">1</text>
<text x="575.34" y="367.20">4</text>
<text x="360.85" y="357.80">0</text>
<text x="361.07" y="336.06">2</text>
<text x="360.55" y="314.32">4</text>
<text x="360.74" y="292.58">6</text>
<text x="360.85" y="270.84">8</text>
<text x="354.35" y="249.10">1</text>
<text x="360.85" y="249.10">0</text>
<clipPath id="cbr"><rect x="369" y="233.2" width="225" height="140"/></clipPath>
<path d="M375.00,225.01L375.1,225.7L375.2,226.4L375.3,227.1L375.4,227.8L375.5,228.5L375.6,229.2L375.7,229.9L375.7,230.5L375.8,231.2L375.9,231.9L376.0,232.6L376.1,233.3L376.1,234.0L376.2,234.7L376.3,235.4L376.4,236.1L376.4,236.8L376.5,237.5L376.6,238.2L376.6,238.9L376.7,239.6L376.8,240.3L376.8,241.0L376.9,241.7L377.0,242.4L377.0,243.1L377.1,243.8L377.2,244.5L377.2,245.2L377.3,245.8L377.3,246.5L377.4,247.2L377.5,247.9L377.5,248.6L377.6,249.3L377.6,250.0L377.7,250.7L377.8,251.4L377.8,252.1L377.9,252.8L377.9,253.5L378.0,254.2L378.1,254.9L378.1,255.6L378.2,256.3L378.2,257.0L378.3,257.7L378.4,258.4L378.4,259.1L378.5,259.8L378.5,260.5L378.6,261.2L378.7,261.9L378.7,262.6L378.8,263.3L378.9,264.0L378.9,264.7L379.0,265.3L379.1,266.0L379.1,266.7L379.2,267.4L379.3,268.1L379.4,268.8L379.4,269.5L379.5,270.2L379.6,270.9L379.7,271.6L379.7,272.3L379.8,273.0L379.9,273.7L380.0,274.4L380.1,275.1L380.2,275.8L380.3,276.5L380.4,277.2L380.5,277.8L380.6,278.5L380.7,279.2L380.8,279.9L380.9,280.6L381.0,281.3L381.1,282.0L381.2,282.7L381.3,283.4L381.4,284.1L381.5,284.8L381.7,285.4L381.8,286.1L381.9,286.8L382.0,287.5L382.2,288.2L382.3,288.9L382.4,289.6L382.6,290.2L382.7,290.9L382.9,291.6L383.0,292.3L383.2,293.0L383.3,293.7L383.5,294.3L383.7,295.0L383.8,295.7L384.0,296.4L384.2,297.1L384.3,297.7L384.5,298.4L384.7,299.1L384.9,299.8L385.1,300.4L385.3,301.1L385.5,301.8L385.7,302.4L385.9,303.1L386.1,303.8L386.3,304.4L386.5,305.1L386.7,305.8L387.0,306.4L387.2,307.1L387.4,307.7L387.7,308.4L387.9,309.1L388.2,309.7L388.4,310.4L388.7,311.0L389.0,311.6L389.2,312.3L389.5,312.9L389.8,313.6L390.1,314.2L390.4,314.8L390.7,315.5L391.0,316.1L391.4,316.7L391.7,317.3L392.0,317.9L392.4,318.5L392.7,319.1L393.1,319.7L393.4,320.3L393.8,320.9L394.2,321.5L394.6,322.1L395.0,322.7L395.4,323.2L395.8,323.8L396.3,324.3L396.7,324.9L397.1,325.4L397.6,326.0L398.1,326.5L398.5,327.0L399.0,327.5L399.5,328.0L400.0,328.5L400.5,329.0L401.0,329.4L401.6,329.9L402.1,330.3L402.6,330.8L403.2,331.2L403.7,331.6L404.3,332.0L404.9,332.4L405.5,332.8L406.1,333.2L406.6,333.6L407.2,333.9L407.8,334.3L408.5,334.7L409.1,335.0L409.7,335.3L410.3,335.6L410.9,336.0L411.5,336.3L412.2,336.6L412.8,336.9L413.4,337.2L414.1,337.4L414.7,337.7L415.4,338.0L416.0,338.3L416.7,338.5L417.3,338.8L418.0,339.0L418.6,339.3L419.3,339.5L419.9,339.8L420.6,340.0L421.2,340.2L421.9,340.5L422.6,340.7L423.2,340.9L423.9,341.1L424.6,341.4L425.2,341.6L425.9,341.8L426.6,342.0L427.2,342.2L427.9,342.4L428.6,342.6L429.2,342.8L429.9,343.0L430.6,343.2L431.3,343.4L431.9,343.5L432.6,343.7L433.3,343.9L434.0,344.1L434.6,344.2L435.3,344.4L436.0,344.6L436.7,344.8L437.3,344.9L438.0,345.1L438.7,345.3L439.4,345.4L440.1,345.6L440.7,345.7L441.4,345.9L442.1,346.0L442.8,346.2L443.5,346.3L444.2,346.5L444.8,346.6L445.5,346.8L446.2,346.9L446.9,347.1L447.6,347.2L448.3,347.4L448.9,347.5L449.6,347.7L450.3,347.8L451.0,348.0L451.7,348.1L452.4,348.3L453.0,348.4L453.7,348.6L454.4,348.7L455.1,348.8L455.8,349.0L456.5,349.1L457.1,349.3L457.8,349.4L458.5,349.6L459.2,349.7L459.9,349.9L460.6,350.0L461.2,350.2L461.9,350.3L462.6,350.5L463.3,350.6L464.0,350.8L464.6,351.0L465.3,351.1L466.0,351.3L466.7,351.5L467.4,351.6L468.0,351.8L468.7,352.0L469.4,352.1L470.1,352.3L470.8,352.5L471.4,352.7L472.1,352.8L472.8,353.0L473.5,353.2L474.1,353.4L474.8,353.6L475.5,353.8L476.1,354.0L476.8,354.2L477.5,354.4L478.1,354.6L478.8,354.8L479.5,355.0L480.1,355.3L480.8,355.5L481.5,355.7L482.1,355.9L482.8,356.2L483.4,356.4L484.1,356.6L484.7,356.9L485.4,357.1L486.1,357.4L486.7,357.7L487.3,357.9L488.0,358.2L488.6,358.5L489.3,358.8L489.9,359.1L490.5,359.4L491.1,359.7L491.8,360.0L492.4,360.4L493.0,360.7L493.6,361.0L494.2,361.4L494.8,361.7L495.4,362.1L496.0,362.5L496.6,362.9L497.2,363.3L497.7,363.7L498.3,364.0L498.9,364.4L499.5,364.8L500.2,365.0L500.8,365.2L501.5,365.3L502.2,365.2L502.9,365.1L503.6,364.8L504.2,364.5L504.8,364.1L505.3,363.7L505.9,363.3L506.5,362.9L507.0,362.5L507.6,362.1L508.2,361.7L508.8,361.3L509.4,361.0L510.0,360.6L510.6,360.3L511.2,360.0L511.8,359.7L512.5,359.4L513.1,359.1L513.8,358.9L514.5,358.7L515.1,358.5L515.8,358.3L516.5,358.1L517.1,357.9L517.8,357.7L518.5,357.6L519.2,357.4L519.9,357.3L520.6,357.2L521.2,357.0L521.9,356.9L522.6,356.8L523.3,356.7L524.0,356.6L524.7,356.5L525.4,356.4L526.1,356.3L526.8,356.2L527.5,356.2L528.2,356.1L528.9,356.0L529.6,355.9L530.2,355.8L530.9,355.8L531.6,355.7L532.3,355.6L533.0,355.6L533.7,355.5L534.4,355.4L535.1,355.4L535.8,355.3L536.5,355.3L537.2,355.2L537.9,355.1L538.6,355.1L539.3,355.0L540.0,355.0L540.7,354.9L541.4,354.9L542.1,354.8L542.8,354.8L543.5,354.7L544.2,354.7L544.9,354.7L545.6,354.6L546.3,354.6L547.0,354.5L547.7,354.5L548.4,354.5L549.1,354.4L549.8,354.4L550.5,354.4L551.2,354.3L551.9,354.3L552.6,354.3L553.3,354.3L554.0,354.2L554.7,354.2L555.4,354.2L556.1,354.2L556.8,354.1L557.4,354.1L558.1,354.1L558.8,354.1L559.5,354.1L560.2,354.0L560.9,354.0L561.6,354.0L562.3,354.0L563.0,354.0L563.7,354.0L564.4,353.9L565.1,353.9L565.8,353.9L566.5,353.9L567.2,353.9L567.9,353.9L568.6,353.9L569.3,353.9L570.0,353.9L570.7,353.8L571.4,353.8L572.1,353.8L572.8,353.8L573.5,353.8L574.2,353.8L574.9,353.8L575.6,353.8L576.3,353.8L577.0,353.8L577.7,353.8L578.4,353.8L579.1,353.7L579.8,353.7L580.5,353.7L581.2,353.7L581.9,353.7L582.6,353.7L583.3,353.7L584.0,353.7L584.7,353.7L585.4,353.7L586.1,353.7L586.8,353.7L587.5,353.6L588.2,353.6L588.9,353.6L589.6,353.6L590.3,353.6L591.0,353.6" stroke="#5e81b5" stroke-width="1.3" fill="none" stroke-linejoin="round" clip-path="url(#cbr)"/>
<path d="M374.23,225.00L374.3,225.7L374.4,226.4L374.5,227.1L374.6,227.8L374.7,228.5L374.7,229.2L374.8,229.9L374.9,230.6L375.0,231.2L375.1,231.9L375.1,232.6L375.2,233.3L375.3,234.0L375.3,234.7L375.4,235.4L375.5,236.1L375.5,236.8L375.6,237.5L375.7,238.2L375.7,238.9L375.8,239.6L375.8,240.3L375.9,241.0L376.0,241.7L376.0,242.4L376.1,243.1L376.1,243.8L376.2,244.5L376.2,245.2L376.3,245.9L376.3,246.6L376.4,247.3L376.4,248.0L376.5,248.7L376.5,249.3L376.6,250.0L376.6,250.7L376.7,251.4L376.7,252.1L376.8,252.8L376.8,253.5L376.9,254.2L376.9,254.9L377.0,255.6L377.0,256.3L377.1,257.0L377.1,257.7L377.2,258.4L377.2,259.1L377.3,259.8L377.3,260.5L377.4,261.2L377.5,261.9L377.5,262.6L377.6,263.3L377.6,264.0L377.7,264.7L377.7,265.4L377.8,266.1L377.8,266.8L377.9,267.5L378.0,268.2L378.0,268.9L378.1,269.6L378.2,270.3L378.2,271.0L378.3,271.6L378.4,272.3L378.4,273.0L378.5,273.7L378.6,274.4L378.6,275.1L378.7,275.8L378.8,276.5L378.9,277.2L379.0,277.9L379.0,278.6L379.1,279.3L379.2,280.0L379.3,280.7L379.4,281.4L379.5,282.1L379.6,282.8L379.7,283.4L379.8,284.1L379.9,284.8L380.0,285.5L380.1,286.2L380.2,286.9L380.3,287.6L380.4,288.3L380.6,289.0L380.7,289.7L380.8,290.3L380.9,291.0L381.1,291.7L381.2,292.4L381.3,293.1L381.5,293.8L381.6,294.5L381.7,295.1L381.9,295.8L382.0,296.5L382.2,297.2L382.3,297.9L382.5,298.6L382.7,299.2L382.8,299.9L383.0,300.6L383.2,301.3L383.3,301.9L383.5,302.6L383.7,303.3L383.9,304.0L384.1,304.6L384.3,305.3L384.5,306.0L384.7,306.7L384.9,307.3L385.1,308.0L385.3,308.6L385.6,309.3L385.8,310.0L386.0,310.6L386.3,311.3L386.5,311.9L386.8,312.6L387.0,313.2L387.3,313.9L387.6,314.5L387.8,315.2L388.1,315.8L388.4,316.4L388.7,317.1L389.0,317.7L389.4,318.3L389.7,318.9L390.0,319.5L390.4,320.2L390.7,320.8L391.1,321.4L391.4,322.0L391.8,322.5L392.2,323.1L392.6,323.7L393.0,324.3L393.4,324.8L393.8,325.4L394.2,326.0L394.7,326.5L395.1,327.0L395.6,327.6L396.1,328.1L396.5,328.6L397.0,329.1L397.5,329.6L398.0,330.1L398.5,330.5L399.1,331.0L399.6,331.5L400.1,331.9L400.7,332.3L401.2,332.8L401.8,333.2L402.4,333.6L402.9,334.0L403.5,334.4L404.1,334.8L404.7,335.1L405.3,335.5L405.9,335.9L406.5,336.2L407.1,336.6L407.7,336.9L408.3,337.2L409.0,337.5L409.6,337.9L410.2,338.2L410.8,338.5L411.5,338.8L412.1,339.1L412.7,339.4L413.4,339.6L414.0,339.9L414.7,340.2L415.3,340.4L416.0,340.7L416.6,341.0L417.3,341.2L417.9,341.5L418.6,341.7L419.2,341.9L419.9,342.2L420.6,342.4L421.2,342.6L421.9,342.8L422.5,343.0L423.2,343.2L423.9,343.4L424.6,343.6L425.2,343.8L425.9,344.0L426.6,344.2L427.2,344.4L427.9,344.6L428.6,344.8L429.3,345.0L429.9,345.1L430.6,345.3L431.3,345.5L432.0,345.7L432.7,345.8L433.3,346.0L434.0,346.1L434.7,346.3L435.4,346.5L436.1,346.6L436.7,346.8L437.4,346.9L438.1,347.1L438.8,347.3L439.5,347.4L440.1,347.6L440.8,347.7L441.5,347.9L442.2,348.0L442.9,348.2L443.6,348.3L444.2,348.5L444.9,348.6L445.6,348.8L446.3,348.9L447.0,349.1L447.6,349.3L448.3,349.4L449.0,349.6L449.7,349.7L450.4,349.9L451.0,350.1L451.7,350.2L452.4,350.4L453.1,350.6L453.8,350.7L454.4,350.9L455.1,351.1L455.8,351.3L456.5,351.5L457.1,351.6L457.8,351.8L458.5,352.0L459.1,352.2L459.8,352.4L460.5,352.6L461.1,352.8L461.8,353.1L462.5,353.3L463.1,353.5L463.8,353.7L464.5,354.0L465.1,354.2L465.8,354.4L466.4,354.7L467.1,354.9L467.7,355.2L468.4,355.4L469.0,355.7L469.7,356.0L470.3,356.2L471.0,356.5L471.6,356.8L472.2,357.1L472.9,357.4L473.5,357.7L474.1,358.0L474.7,358.3L475.4,358.6L476.0,359.0L476.6,359.3L477.2,359.6L477.8,360.0L478.4,360.3L479.0,360.7L479.6,361.0L480.2,361.4L480.8,361.7L481.4,362.1L482.0,362.4L482.7,362.8L483.3,363.1L483.9,363.4L484.6,363.6L485.2,363.9L485.9,364.0L486.6,364.1L487.3,364.1L488.0,364.0L488.7,363.9L489.3,363.6L490.0,363.4L490.6,363.1L491.2,362.8L491.8,362.4L492.5,362.1L493.0,361.7L493.6,361.3L494.2,361.0L494.8,360.6L495.4,360.3L496.1,359.9L496.7,359.6L497.3,359.2L497.9,358.9L498.5,358.6L499.2,358.4L499.8,358.1L500.5,357.8L501.1,357.6L501.8,357.4L502.5,357.2L503.1,357.0L503.8,356.8L504.5,356.6L505.2,356.4L505.8,356.3L506.5,356.2L507.2,356.0L507.9,355.9L508.6,355.8L509.3,355.7L510.0,355.6L510.7,355.5L511.4,355.4L512.1,355.4L512.8,355.3L513.5,355.2L514.2,355.2L514.8,355.1L515.5,355.1L516.2,355.0L516.9,355.0L517.6,354.9L518.3,354.9L519.0,354.8L519.7,354.8L520.4,354.8L521.1,354.7L521.8,354.7L522.5,354.7L523.2,354.6L523.9,354.6L524.6,354.6L525.3,354.5L526.0,354.5L526.7,354.5L527.4,354.4L528.1,354.4L528.8,354.4L529.5,354.3L530.2,354.3L530.9,354.3L531.6,354.3L532.3,354.2L533.0,354.2L533.7,354.2L534.4,354.2L535.1,354.1L535.8,354.1L536.5,354.1L537.2,354.1L537.9,354.0L538.6,354.0L539.3,354.0L540.0,354.0L540.7,354.0L541.4,353.9L542.1,353.9L542.8,353.9L543.5,353.9L544.2,353.9L544.9,353.9L545.6,353.8L546.3,353.8L547.0,353.8L547.7,353.8L548.4,353.8L549.1,353.8L549.8,353.8L550.5,353.8L551.2,353.7L551.9,353.7L552.6,353.7L553.3,353.7L554.0,353.7L554.7,353.7L555.4,353.7L556.1,353.7L556.8,353.7L557.5,353.7L558.2,353.7L558.9,353.6L559.6,353.6L560.3,353.6L560.9,353.6L561.6,353.6L562.3,353.6L563.0,353.6L563.7,353.6L564.4,353.6L565.1,353.6L565.8,353.6L566.5,353.6L567.2,353.6L567.9,353.6L568.6,353.6L569.3,353.6L570.0,353.6L570.7,353.6L571.4,353.6L572.1,353.6L572.8,353.6L573.5,353.6L574.2,353.6L574.9,353.6L575.6,353.6L576.3,353.6L577.0,353.6L577.7,353.6L578.4,353.6L579.1,353.6L579.8,353.6L580.5,353.6L581.2,353.6L581.9,353.6L582.6,353.6L583.3,353.6L584.0,353.6L584.7,353.6L585.4,353.6L586.1,353.6L586.8,353.6L587.5,353.6L588.2,353.6L588.9,353.6L589.6,353.6L590.3,353.6L591.0,353.6" stroke="#e19c24" stroke-width="1.3" fill="none" stroke-linejoin="round" clip-path="url(#cbr)"/>
<path d="M373.37,224.99L373.4,225.7L373.5,226.4L373.5,227.1L373.6,227.8L373.6,228.5L373.7,229.2L373.7,229.9L373.8,230.6L373.8,231.3L373.9,232.0L373.9,232.7L374.0,233.4L374.0,234.1L374.1,234.8L374.1,235.4L374.2,236.1L374.2,236.8L374.2,237.5L374.3,238.2L374.3,238.9L374.4,239.6L374.4,240.3L374.4,241.0L374.5,241.7L374.5,242.4L374.6,243.1L374.6,243.8L374.6,244.5L374.7,245.2L374.7,245.9L374.8,246.6L374.8,247.3L374.8,248.0L374.9,248.7L374.9,249.4L374.9,250.1L375.0,250.8L375.0,251.5L375.1,252.2L375.1,252.9L375.1,253.6L375.2,254.3L375.2,255.0L375.2,255.7L375.3,256.4L375.3,257.1L375.4,257.8L375.4,258.5L375.5,259.2L375.5,259.9L375.5,260.6L375.6,261.3L375.6,262.0L375.7,262.7L375.7,263.4L375.8,264.1L375.8,264.8L375.9,265.5L375.9,266.2L375.9,266.9L376.0,267.6L376.0,268.3L376.1,269.0L376.2,269.7L376.2,270.4L376.3,271.0L376.3,271.7L376.4,272.4L376.4,273.1L376.5,273.8L376.6,274.5L376.6,275.2L376.7,275.9L376.7,276.6L376.8,277.3L376.9,278.0L376.9,278.7L377.0,279.4L377.1,280.1L377.2,280.8L377.2,281.5L377.3,282.2L377.4,282.9L377.5,283.6L377.5,284.3L377.6,285.0L377.7,285.7L377.8,286.4L377.9,287.1L378.0,287.7L378.1,288.4L378.1,289.1L378.2,289.8L378.3,290.5L378.4,291.2L378.5,291.9L378.6,292.6L378.7,293.3L378.9,294.0L379.0,294.7L379.1,295.4L379.2,296.0L379.3,296.7L379.4,297.4L379.5,298.1L379.7,298.8L379.8,299.5L379.9,300.2L380.0,300.9L380.2,301.6L380.3,302.2L380.4,302.9L380.6,303.6L380.7,304.3L380.9,305.0L381.0,305.7L381.2,306.3L381.3,307.0L381.5,307.7L381.7,308.4L381.8,309.1L382.0,309.7L382.2,310.4L382.4,311.1L382.6,311.8L382.8,312.4L383.0,313.1L383.2,313.8L383.4,314.4L383.6,315.1L383.9,315.7L384.1,316.4L384.4,317.1L384.6,317.7L384.9,318.4L385.2,319.0L385.4,319.6L385.7,320.3L386.0,320.9L386.3,321.5L386.7,322.2L387.0,322.8L387.3,323.4L387.7,324.0L388.0,324.6L388.4,325.2L388.7,325.8L389.1,326.4L389.5,327.0L389.9,327.5L390.3,328.1L390.8,328.6L391.2,329.2L391.7,329.7L392.1,330.3L392.6,330.8L393.1,331.3L393.5,331.8L394.0,332.3L394.5,332.8L395.0,333.3L395.6,333.7L396.1,334.2L396.6,334.6L397.2,335.1L397.7,335.5L398.3,336.0L398.8,336.4L399.4,336.8L400.0,337.2L400.5,337.6L401.1,338.0L401.7,338.4L402.3,338.7L402.9,339.1L403.5,339.4L404.1,339.8L404.7,340.1L405.3,340.5L405.9,340.8L406.6,341.1L407.2,341.4L407.8,341.7L408.4,342.0L409.1,342.3L409.7,342.6L410.4,342.9L411.0,343.2L411.7,343.4L412.3,343.7L413.0,343.9L413.6,344.2L414.3,344.4L414.9,344.7L415.6,344.9L416.2,345.1L416.9,345.4L417.6,345.6L418.2,345.8L418.9,346.0L419.6,346.2L420.2,346.5L420.9,346.7L421.6,346.9L422.2,347.1L422.9,347.3L423.6,347.5L424.2,347.7L424.9,347.9L425.6,348.1L426.2,348.3L426.9,348.5L427.6,348.7L428.3,348.9L428.9,349.1L429.6,349.3L430.3,349.5L430.9,349.7L431.6,349.9L432.3,350.1L432.9,350.3L433.6,350.5L434.3,350.7L434.9,351.0L435.6,351.2L436.3,351.4L436.9,351.6L437.6,351.9L438.2,352.1L438.9,352.4L439.5,352.6L440.2,352.9L440.8,353.1L441.5,353.4L442.1,353.6L442.8,353.9L443.4,354.2L444.1,354.5L444.7,354.8L445.3,355.1L446.0,355.4L446.6,355.7L447.2,356.0L447.8,356.3L448.5,356.7L449.1,357.0L449.7,357.3L450.3,357.7L450.9,358.0L451.5,358.4L452.1,358.8L452.7,359.1L453.3,359.5L453.9,359.8L454.5,360.2L455.1,360.5L455.7,360.9L456.3,361.2L457.0,361.5L457.6,361.7L458.3,362.0L458.9,362.2L459.6,362.4L460.3,362.5L461.0,362.6L461.7,362.6L462.4,362.6L463.1,362.5L463.8,362.3L464.4,362.2L465.1,362.0L465.8,361.7L466.4,361.5L467.1,361.2L467.7,360.9L468.3,360.6L469.0,360.3L469.6,360.0L470.2,359.7L470.8,359.4L471.5,359.1L472.1,358.8L472.7,358.5L473.4,358.2L474.0,357.9L474.7,357.7L475.3,357.4L476.0,357.2L476.6,357.0L477.3,356.8L478.0,356.6L478.7,356.4L479.3,356.2L480.0,356.0L480.7,355.9L481.4,355.7L482.1,355.6L482.7,355.4L483.4,355.3L484.1,355.2L484.8,355.1L485.5,355.0L486.2,354.9L486.9,354.8L487.6,354.7L488.3,354.6L489.0,354.5L489.7,354.4L490.4,354.4L491.1,354.3L491.8,354.2L492.5,354.2L493.2,354.1L493.8,354.1L494.5,354.0L495.2,354.0L495.9,353.9L496.6,353.9L497.3,353.8L498.0,353.8L498.7,353.7L499.4,353.7L500.1,353.7L500.8,353.6L501.5,353.6L502.2,353.6L502.9,353.5L503.6,353.5L504.3,353.5L505.0,353.5L505.7,353.4L506.4,353.4L507.1,353.4L507.8,353.4L508.5,353.4L509.2,353.3L509.9,353.3L510.6,353.3L511.3,353.3L512.0,353.3L512.7,353.3L513.4,353.3L514.1,353.3L514.8,353.3L515.5,353.3L516.2,353.3L516.9,353.3L517.6,353.3L518.3,353.3L519.0,353.3L519.7,353.3L520.4,353.3L521.1,353.3L521.8,353.3L522.5,353.3L523.2,353.3L523.9,353.3L524.6,353.3L525.3,353.3L526.0,353.3L526.7,353.4L527.4,353.4L528.1,353.4L528.8,353.4L529.5,353.4L530.2,353.4L530.9,353.4L531.6,353.5L532.3,353.5L533.0,353.5L533.7,353.5L534.4,353.5L535.1,353.5L535.8,353.6L536.5,353.6L537.2,353.6L537.9,353.6L538.6,353.6L539.3,353.7L540.0,353.7L540.7,353.7L541.4,353.7L542.1,353.7L542.8,353.8L543.5,353.8L544.2,353.8L544.9,353.8L545.6,353.8L546.3,353.8L547.0,353.9L547.7,353.9L548.4,353.9L549.1,353.9L549.8,353.9L550.5,354.0L551.2,354.0L551.9,354.0L552.6,354.0L553.3,354.0L554.0,354.0L554.7,354.0L555.4,354.1L556.1,354.1L556.8,354.1L557.5,354.1L558.2,354.1L558.9,354.1L559.6,354.1L560.3,354.1L561.0,354.1L561.7,354.1L562.4,354.2L563.1,354.2L563.8,354.2L564.5,354.2L565.2,354.2L565.9,354.2L566.5,354.2L567.2,354.2L567.9,354.2L568.6,354.2L569.3,354.2L570.0,354.1L570.7,354.1L571.4,354.1L572.1,354.1L572.8,354.1L573.5,354.1L574.2,354.1L574.9,354.1L575.6,354.0L576.3,354.0L577.0,354.0L577.7,354.0L578.4,354.0L579.1,353.9L579.8,353.9L580.5,353.9L581.2,353.8L581.9,353.8L582.6,353.8L583.3,353.7L584.0,353.7L584.7,353.7L585.4,353.6L586.1,353.6L586.8,353.5L587.5,353.5L588.2,353.4L588.9,353.4L589.6,353.3L590.3,353.3L591.0,353.2" stroke="#8fb032" stroke-width="1.3" fill="none" stroke-linejoin="round" clip-path="url(#cbr)"/>
<g opacity="0.55"><path d="M369.45,353.20H590.55" stroke="#4a4a4a" stroke-width="1.05" fill="none"/><path d="M376.82,353.20V351.50M384.19,353.20V351.50M391.56,353.20V351.50M398.93,353.20V350.60M406.30,353.20V351.50M413.67,353.20V351.50M421.04,353.20V351.50M428.41,353.20V350.60M435.78,353.20V351.50M443.15,353.20V351.50M450.52,353.20V351.50M457.89,353.20V350.60M465.26,353.20V351.50M472.63,353.20V351.50M480.00,353.20V351.50M487.37,353.20V350.60M494.74,353.20V351.50M502.11,353.20V351.50M509.48,353.20V351.50M516.85,353.20V350.60M524.22,353.20V351.50M531.59,353.20V351.50M538.96,353.20V351.50M546.33,353.20V350.60M553.70,353.20V351.50M561.07,353.20V351.50M568.44,353.20V351.50M575.81,353.20V350.60M583.18,353.20V351.50M590.55,353.20V351.50" stroke="#4a4a4a" stroke-width="0.85" fill="none"/></g>
<line x1="619.20" y1="261.80" x2="633.20" y2="261.80" stroke="#5e81b5" stroke-width="1.5" opacity="0.72"/>
<text transform="translate(639.47,266.40) scale(1.25,1)" font-style="italic">γ</text>
<text transform="translate(646.44,267.60) scale(1.12,1)">=</text>
<text transform="translate(654.69,267.60) scale(1.12,1)">−</text>
<text x="662.57" y="266.40">1</text>
<text x="669.39" y="266.40">/</text>
<text x="672.77" y="266.40">1</text>
<text x="679.42" y="266.40">2</text>
<line x1="619.20" y1="282.60" x2="633.20" y2="282.60" stroke="#e19c24" stroke-width="1.5" opacity="0.72"/>
<text transform="translate(639.47,287.20) scale(1.25,1)" font-style="italic">γ</text>
<text transform="translate(646.44,288.40) scale(1.12,1)">=</text>
<text x="654.55" y="287.20">0</text>
<line x1="619.20" y1="303.40" x2="633.20" y2="303.40" stroke="#8fb032" stroke-width="1.5" opacity="0.72"/>
<text transform="translate(639.47,308.00) scale(1.25,1)" font-style="italic">γ</text>
<text transform="translate(646.39,309.20) scale(1.12,1)">=</text>
<text x="654.32" y="308.00">1</text>
<text x="660.49" y="308.00">/</text>
<text x="664.52" y="308.00">1</text>
<text x="671.37" y="308.00">2</text>
<text transform="translate(446.99,212.80) scale(1.12,1)" font-style="italic">α</text>
<text x="455.04" y="214.60" font-size="8.2" style="stroke-width:0.25px">1</text>
<text transform="translate(459.49,214.00) scale(1.12,1)">=</text>
<text x="467.30" y="212.80">0</text>
<text x="473.93" y="212.80">.</text>
<text x="476.87" y="212.80">2</text>
<text x="483.44" y="212.80">,</text>
<text transform="translate(486.75,212.80) scale(1.1,1)" font-style="italic">γ</text>
<text x="493.64" y="214.60" font-size="8.2" style="stroke-width:0.25px">1</text>
<text transform="translate(498.29,214.00) scale(1.12,1)">=</text>
<text x="506.20" y="212.80">0</text>
<text x="356.33" y="227.30">I</text>
<text x="360.46" y="227.30">m</text>
<text transform="translate(372.96,227.30) scale(0.9,1)" font-style="italic">σ</text>
<path d="M376.20,221.20H381.90" stroke="#000" stroke-width="1.1" fill="none"/>
<text transform="translate(598.50,351.40) scale(1.15,1)" font-style="italic" font-size="9.5" style="stroke-width:0.02px">ω</text>
<line x1="597.50" y1="351.80" x2="606.90" y2="351.80" stroke="#000" stroke-width="0.75"/>
<text x="597.67" y="361.40" font-style="italic" font-size="9.5" style="stroke-width:0.08px">T</text>
<text x="602.72" y="362.40" font-style="italic" font-size="6.8" style="stroke-width:0.02px">c</text>
</svg>
</body></html>
